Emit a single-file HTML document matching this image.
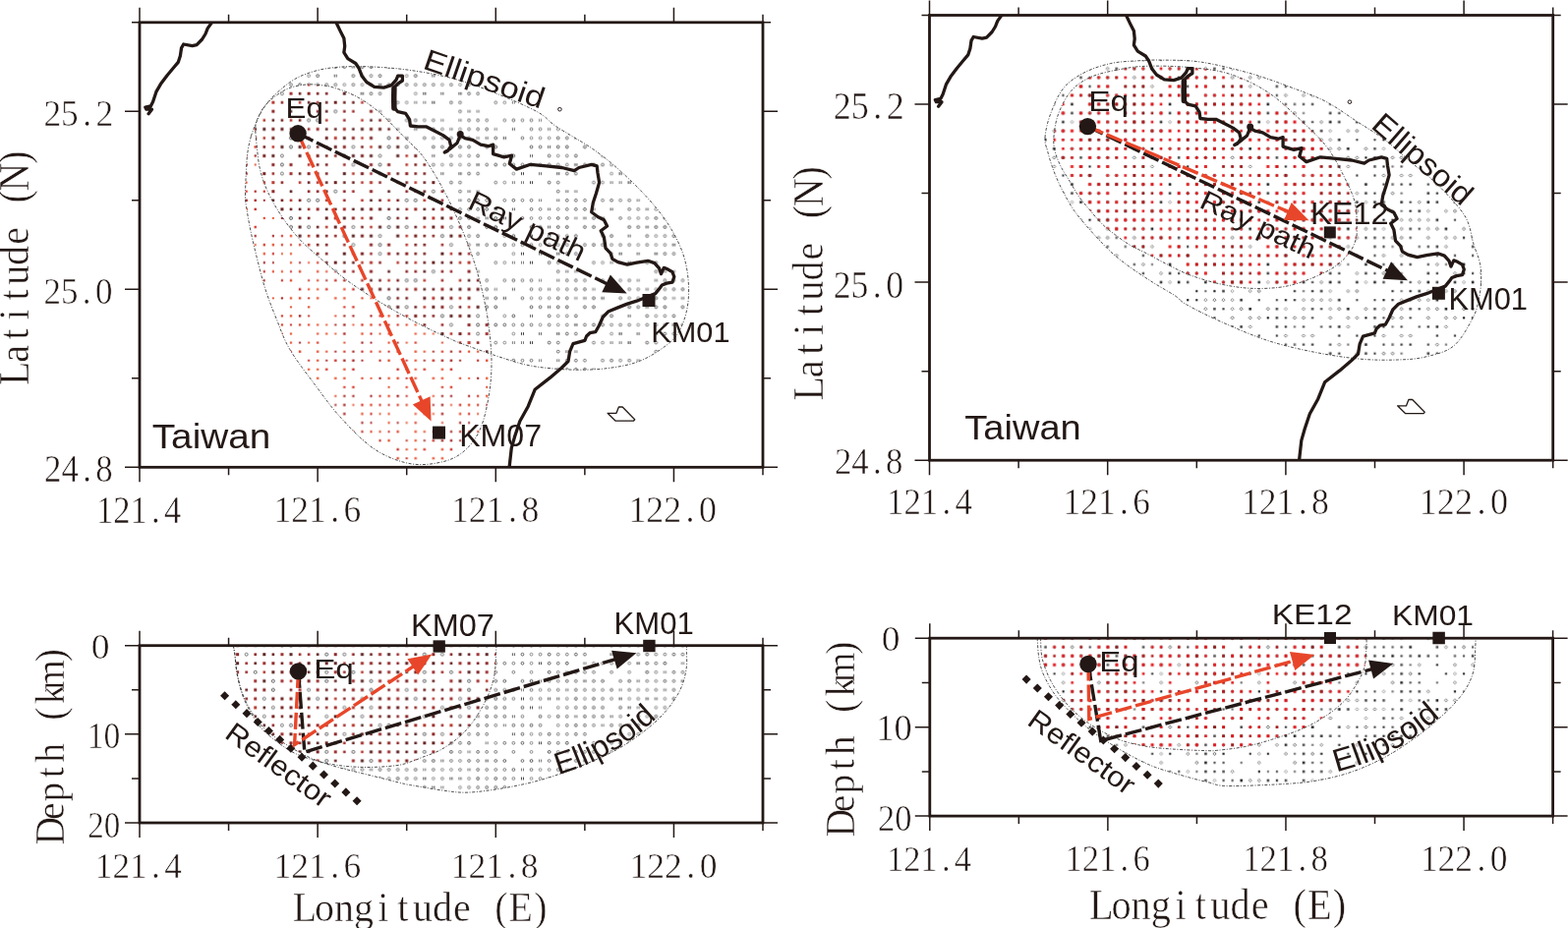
<!DOCTYPE html>
<html><head><meta charset="utf-8"><title>Figure</title>
<style>html,body{margin:0;padding:0;background:#fff;overflow:hidden}svg{display:block}</style>
</head><body>
<svg width="1595" height="944" viewBox="0 0 1595 944">
<defs><pattern id="pRA" patternUnits="userSpaceOnUse" x="137.47" y="18.27" width="99.63" height="81.45"><rect x="12.59" y="3.53" width="2" height="2" fill="#e04a2e"/><rect x="30.6" y="3.43" width="2.2" height="2.2" fill="#a82a2a"/><rect x="39.76" y="3.53" width="2" height="2" fill="#a82a2a"/><rect x="57.77" y="3.43" width="2.2" height="2.2" fill="#e85a3a"/><rect x="66.93" y="3.53" width="2" height="2" fill="#a82a2a"/><rect x="75.99" y="3.53" width="2" height="2" fill="#e85a3a"/><rect x="84.94" y="3.43" width="2.2" height="2.2" fill="#d83a2a"/><rect x="3.53" y="12.58" width="2" height="2" fill="#a82a2a"/><rect x="12.49" y="12.48" width="2.2" height="2.2" fill="#d83a2a"/><rect x="21.54" y="12.48" width="2.2" height="2.2" fill="#a82a2a"/><rect x="30.6" y="12.48" width="2.2" height="2.2" fill="#c8302a"/><rect x="39.66" y="12.48" width="2.2" height="2.2" fill="#e04a2e"/><rect x="48.71" y="12.48" width="2.2" height="2.2" fill="#e85a3a"/><rect x="57.87" y="12.58" width="2" height="2" fill="#c8302a"/><rect x="66.73" y="12.38" width="2.4" height="2.4" fill="#e04a2e"/><rect x="84.84" y="12.38" width="2.4" height="2.4" fill="#e85a3a"/><rect x="94" y="12.48" width="2.2" height="2.2" fill="#e85a3a"/><rect x="3.33" y="21.43" width="2.4" height="2.4" fill="#c8302a"/><rect x="12.39" y="21.43" width="2.4" height="2.4" fill="#a82a2a"/><rect x="21.44" y="21.43" width="2.4" height="2.4" fill="#a82a2a"/><rect x="30.7" y="21.62" width="2" height="2" fill="#a82a2a"/><rect x="48.71" y="21.52" width="2.2" height="2.2" fill="#c8302a"/><rect x="57.67" y="21.43" width="2.4" height="2.4" fill="#e04a2e"/><rect x="75.99" y="21.62" width="2" height="2" fill="#c8302a"/><rect x="84.94" y="21.52" width="2.2" height="2.2" fill="#e04a2e"/><rect x="94.1" y="21.62" width="2" height="2" fill="#a82a2a"/><rect x="12.39" y="30.48" width="2.4" height="2.4" fill="#e85a3a"/><rect x="21.44" y="30.48" width="2.4" height="2.4" fill="#c8302a"/><rect x="66.73" y="30.48" width="2.4" height="2.4" fill="#c8302a"/><rect x="75.89" y="30.58" width="2.2" height="2.2" fill="#e85a3a"/><rect x="84.94" y="30.58" width="2.2" height="2.2" fill="#e85a3a"/><rect x="93.9" y="30.48" width="2.4" height="2.4" fill="#d83a2a"/><rect x="3.33" y="39.52" width="2.4" height="2.4" fill="#e85a3a"/><rect x="12.39" y="39.52" width="2.4" height="2.4" fill="#e85a3a"/><rect x="30.6" y="39.62" width="2.2" height="2.2" fill="#e04a2e"/><rect x="39.76" y="39.73" width="2" height="2" fill="#e85a3a"/><rect x="48.71" y="39.62" width="2.2" height="2.2" fill="#a82a2a"/><rect x="57.67" y="39.52" width="2.4" height="2.4" fill="#e85a3a"/><rect x="66.73" y="39.52" width="2.4" height="2.4" fill="#e04a2e"/><rect x="75.99" y="39.73" width="2" height="2" fill="#c8302a"/><rect x="84.84" y="39.52" width="2.4" height="2.4" fill="#e85a3a"/><rect x="12.49" y="48.68" width="2.2" height="2.2" fill="#d83a2a"/><rect x="21.44" y="48.58" width="2.4" height="2.4" fill="#d83a2a"/><rect x="57.87" y="48.78" width="2" height="2" fill="#e04a2e"/><rect x="75.89" y="48.68" width="2.2" height="2.2" fill="#e04a2e"/><rect x="3.53" y="57.83" width="2" height="2" fill="#e04a2e"/><rect x="12.49" y="57.73" width="2.2" height="2.2" fill="#a82a2a"/><rect x="21.54" y="57.73" width="2.2" height="2.2" fill="#a82a2a"/><rect x="39.66" y="57.73" width="2.2" height="2.2" fill="#a82a2a"/><rect x="48.71" y="57.73" width="2.2" height="2.2" fill="#d83a2a"/><rect x="57.67" y="57.62" width="2.4" height="2.4" fill="#e85a3a"/><rect x="66.73" y="57.62" width="2.4" height="2.4" fill="#a82a2a"/><rect x="75.99" y="57.83" width="2" height="2" fill="#c8302a"/><rect x="3.53" y="66.88" width="2" height="2" fill="#a82a2a"/><rect x="12.39" y="66.67" width="2.4" height="2.4" fill="#a82a2a"/><rect x="21.64" y="66.88" width="2" height="2" fill="#e85a3a"/><rect x="30.5" y="66.67" width="2.4" height="2.4" fill="#d83a2a"/><rect x="39.56" y="66.67" width="2.4" height="2.4" fill="#e04a2e"/><rect x="48.71" y="66.78" width="2.2" height="2.2" fill="#d83a2a"/><rect x="57.87" y="66.88" width="2" height="2" fill="#c8302a"/><rect x="66.83" y="66.78" width="2.2" height="2.2" fill="#d83a2a"/><rect x="75.89" y="66.78" width="2.2" height="2.2" fill="#e04a2e"/><rect x="84.94" y="66.78" width="2.2" height="2.2" fill="#e85a3a"/><rect x="94.1" y="66.88" width="2" height="2" fill="#e85a3a"/><rect x="3.53" y="75.93" width="2" height="2" fill="#e85a3a"/><rect x="12.39" y="75.73" width="2.4" height="2.4" fill="#a82a2a"/><rect x="30.5" y="75.73" width="2.4" height="2.4" fill="#e85a3a"/><rect x="39.66" y="75.83" width="2.2" height="2.2" fill="#c8302a"/><rect x="48.81" y="75.93" width="2" height="2" fill="#e85a3a"/><rect x="57.77" y="75.83" width="2.2" height="2.2" fill="#e85a3a"/><rect x="84.94" y="75.83" width="2.2" height="2.2" fill="#e85a3a"/><rect x="94" y="75.83" width="2.2" height="2.2" fill="#e85a3a"/></pattern>
<pattern id="pGA" patternUnits="userSpaceOnUse" x="137.47" y="18.27" width="99.63" height="81.45"><path d="M3.53 3.13v2.8M5.53 3.13v2.8" stroke="#222" stroke-width="0.9"/><circle cx="22.64" cy="4.53" r="1.4" fill="none" stroke="#333" stroke-width="0.75"/><circle cx="31.7" cy="4.53" r="1.4" fill="none" stroke="#444" stroke-width="0.75"/><circle cx="67.93" cy="4.53" r="1.4" fill="none" stroke="#555" stroke-width="0.75"/><circle cx="76.99" cy="4.53" r="1.4" fill="none" stroke="#666" stroke-width="0.75"/><path d="M85.04 3.13v2.8M87.04 3.13v2.8" stroke="#666" stroke-width="0.9"/><path d="M94.1 3.13v2.8M96.1 3.13v2.8" stroke="#666" stroke-width="0.9"/><circle cx="31.7" cy="13.58" r="1.4" fill="none" stroke="#444" stroke-width="0.75"/><path d="M39.76 12.18v2.8M41.76 12.18v2.8" stroke="#555" stroke-width="0.9"/><path d="M48.81 12.18v2.8M50.81 12.18v2.8" stroke="#666" stroke-width="0.9"/><circle cx="4.53" cy="22.62" r="1.4" fill="none" stroke="#444" stroke-width="0.75"/><path d="M12.59 21.23v2.8M14.59 21.23v2.8" stroke="#666" stroke-width="0.9"/><path d="M30.7 21.23v2.8M32.7 21.23v2.8" stroke="#555" stroke-width="0.9"/><circle cx="40.76" cy="22.62" r="1.4" fill="none" stroke="#444" stroke-width="0.75"/><circle cx="49.81" cy="22.62" r="1.4" fill="none" stroke="#444" stroke-width="0.75"/><circle cx="58.87" cy="22.62" r="1.4" fill="none" stroke="#555" stroke-width="0.75"/><circle cx="76.99" cy="22.62" r="1.4" fill="none" stroke="#555" stroke-width="0.75"/><circle cx="86.04" cy="22.62" r="1.4" fill="none" stroke="#333" stroke-width="0.75"/><circle cx="95.1" cy="22.62" r="1.4" fill="none" stroke="#555" stroke-width="0.75"/><circle cx="4.53" cy="31.68" r="1.4" fill="none" stroke="#444" stroke-width="0.75"/><circle cx="13.59" cy="31.68" r="1.4" fill="none" stroke="#555" stroke-width="0.75"/><path d="M21.64 30.28v2.8M23.64 30.28v2.8" stroke="#555" stroke-width="0.9"/><circle cx="31.7" cy="31.68" r="1.4" fill="none" stroke="#666" stroke-width="0.75"/><circle cx="40.76" cy="31.68" r="1.4" fill="none" stroke="#555" stroke-width="0.75"/><circle cx="49.81" cy="31.68" r="1.4" fill="none" stroke="#444" stroke-width="0.75"/><circle cx="58.87" cy="31.68" r="1.4" fill="none" stroke="#333" stroke-width="0.75"/><path d="M66.93 30.28v2.8M68.93 30.28v2.8" stroke="#666" stroke-width="0.9"/><path d="M85.04 30.28v2.8M87.04 30.28v2.8" stroke="#444" stroke-width="0.9"/><circle cx="4.53" cy="40.73" r="1.4" fill="none" stroke="#666" stroke-width="0.75"/><circle cx="13.59" cy="40.73" r="1.4" fill="none" stroke="#666" stroke-width="0.75"/><circle cx="22.64" cy="40.73" r="1.4" fill="none" stroke="#666" stroke-width="0.75"/><circle cx="31.7" cy="40.73" r="1.4" fill="none" stroke="#333" stroke-width="0.75"/><circle cx="40.76" cy="40.73" r="1.4" fill="none" stroke="#444" stroke-width="0.75"/><path d="M48.81 39.33v2.8M50.81 39.33v2.8" stroke="#666" stroke-width="0.9"/><path d="M57.87 39.33v2.8M59.87 39.33v2.8" stroke="#444" stroke-width="0.9"/><circle cx="67.93" cy="40.73" r="1.4" fill="none" stroke="#333" stroke-width="0.75"/><path d="M75.99 39.33v2.8M77.99 39.33v2.8" stroke="#222" stroke-width="0.9"/><circle cx="95.1" cy="40.73" r="1.4" fill="none" stroke="#444" stroke-width="0.75"/><circle cx="4.53" cy="49.78" r="1.4" fill="none" stroke="#222" stroke-width="0.75"/><circle cx="13.59" cy="49.78" r="1.4" fill="none" stroke="#333" stroke-width="0.75"/><path d="M21.64 48.38v2.8M23.64 48.38v2.8" stroke="#333" stroke-width="0.9"/><circle cx="31.7" cy="49.78" r="1.4" fill="none" stroke="#222" stroke-width="0.75"/><circle cx="40.76" cy="49.78" r="1.4" fill="none" stroke="#222" stroke-width="0.75"/><circle cx="58.87" cy="49.78" r="1.4" fill="none" stroke="#333" stroke-width="0.75"/><circle cx="67.93" cy="49.78" r="1.4" fill="none" stroke="#222" stroke-width="0.75"/><path d="M3.53 57.43v2.8M5.53 57.43v2.8" stroke="#444" stroke-width="0.9"/><circle cx="22.64" cy="58.83" r="1.4" fill="none" stroke="#333" stroke-width="0.75"/><circle cx="31.7" cy="58.83" r="1.4" fill="none" stroke="#666" stroke-width="0.75"/><circle cx="40.76" cy="58.83" r="1.4" fill="none" stroke="#555" stroke-width="0.75"/><circle cx="49.81" cy="58.83" r="1.4" fill="none" stroke="#333" stroke-width="0.75"/><circle cx="76.99" cy="58.83" r="1.4" fill="none" stroke="#666" stroke-width="0.75"/><circle cx="86.04" cy="58.83" r="1.4" fill="none" stroke="#222" stroke-width="0.75"/><circle cx="4.53" cy="67.88" r="1.4" fill="none" stroke="#444" stroke-width="0.75"/><circle cx="13.59" cy="67.88" r="1.4" fill="none" stroke="#666" stroke-width="0.75"/><circle cx="22.64" cy="67.88" r="1.4" fill="none" stroke="#444" stroke-width="0.75"/><circle cx="31.7" cy="67.88" r="1.4" fill="none" stroke="#666" stroke-width="0.75"/><circle cx="40.76" cy="67.88" r="1.4" fill="none" stroke="#555" stroke-width="0.75"/><path d="M48.81 66.47v2.8M50.81 66.47v2.8" stroke="#222" stroke-width="0.9"/><circle cx="58.87" cy="67.88" r="1.4" fill="none" stroke="#444" stroke-width="0.75"/><circle cx="67.93" cy="67.88" r="1.4" fill="none" stroke="#222" stroke-width="0.75"/><circle cx="76.99" cy="67.88" r="1.4" fill="none" stroke="#333" stroke-width="0.75"/><circle cx="86.04" cy="67.88" r="1.4" fill="none" stroke="#555" stroke-width="0.75"/><circle cx="95.1" cy="67.88" r="1.4" fill="none" stroke="#444" stroke-width="0.75"/><path d="M12.59 75.53v2.8M14.59 75.53v2.8" stroke="#444" stroke-width="0.9"/><path d="M30.7 75.53v2.8M32.7 75.53v2.8" stroke="#222" stroke-width="0.9"/><circle cx="40.76" cy="76.93" r="1.4" fill="none" stroke="#333" stroke-width="0.75"/><circle cx="49.81" cy="76.93" r="1.4" fill="none" stroke="#444" stroke-width="0.75"/><circle cx="86.04" cy="76.93" r="1.4" fill="none" stroke="#666" stroke-width="0.75"/><path d="M94.1 75.53v2.8M96.1 75.53v2.8" stroke="#222" stroke-width="0.9"/></pattern>
<pattern id="pOA" patternUnits="userSpaceOnUse" x="137.47" y="18.27" width="99.63" height="81.45"><rect x="3.03" y="3.03" width="3" height="3" fill="#6a2222"/><rect x="12.29" y="3.23" width="2.6" height="2.6" fill="#6a2222"/><rect x="21.34" y="3.23" width="2.6" height="2.6" fill="#6a2222"/><rect x="30.4" y="3.23" width="2.6" height="2.6" fill="#b83a30"/><rect x="39.26" y="3.03" width="3" height="3" fill="#b83a30"/><rect x="48.51" y="3.23" width="2.6" height="2.6" fill="#8e2626"/><rect x="66.63" y="3.23" width="2.6" height="2.6" fill="#b83a30"/><rect x="75.69" y="3.23" width="2.6" height="2.6" fill="#6a2222"/><rect x="84.74" y="3.23" width="2.6" height="2.6" fill="#b83a30"/><rect x="93.8" y="3.23" width="2.6" height="2.6" fill="#6a2222"/><circle cx="4.53" cy="13.58" r="1.5" fill="none" stroke="#555" stroke-width="0.9"/><rect x="12.29" y="12.28" width="2.6" height="2.6" fill="#8e2626"/><rect x="21.34" y="12.28" width="2.6" height="2.6" fill="#a03030"/><rect x="39.26" y="12.08" width="3" height="3" fill="#8e2626"/><rect x="57.57" y="12.28" width="2.6" height="2.6" fill="#5e2424"/><rect x="75.69" y="12.28" width="2.6" height="2.6" fill="#8e2626"/><rect x="84.74" y="12.28" width="2.6" height="2.6" fill="#8e2626"/><rect x="93.8" y="12.28" width="2.6" height="2.6" fill="#5e2424"/><rect x="12.29" y="21.32" width="2.6" height="2.6" fill="#a03030"/><rect x="30.4" y="21.32" width="2.6" height="2.6" fill="#b83a30"/><rect x="39.46" y="21.32" width="2.6" height="2.6" fill="#5e2424"/><rect x="48.51" y="21.32" width="2.6" height="2.6" fill="#7a2020"/><rect x="57.57" y="21.32" width="2.6" height="2.6" fill="#b83a30"/><rect x="66.63" y="21.32" width="2.6" height="2.6" fill="#7a2020"/><circle cx="76.99" cy="22.62" r="1.5" fill="none" stroke="#555" stroke-width="0.9"/><circle cx="86.04" cy="22.62" r="1.5" fill="none" stroke="#444" stroke-width="0.9"/><rect x="93.8" y="21.32" width="2.6" height="2.6" fill="#b83a30"/><rect x="3.23" y="30.38" width="2.6" height="2.6" fill="#6a2222"/><rect x="12.09" y="30.18" width="3" height="3" fill="#a03030"/><rect x="21.34" y="30.38" width="2.6" height="2.6" fill="#5e2424"/><rect x="30.2" y="30.18" width="3" height="3" fill="#5e2424"/><rect x="39.26" y="30.18" width="3" height="3" fill="#7a2020"/><rect x="48.31" y="30.18" width="3" height="3" fill="#6a2222"/><rect x="57.57" y="30.38" width="2.6" height="2.6" fill="#6a2222"/><rect x="66.63" y="30.38" width="2.6" height="2.6" fill="#5e2424"/><rect x="75.69" y="30.38" width="2.6" height="2.6" fill="#a03030"/><rect x="84.54" y="30.18" width="3" height="3" fill="#a03030"/><rect x="93.8" y="30.38" width="2.6" height="2.6" fill="#5e2424"/><rect x="3.03" y="39.23" width="3" height="3" fill="#b83a30"/><rect x="12.09" y="39.23" width="3" height="3" fill="#5e2424"/><rect x="21.14" y="39.23" width="3" height="3" fill="#8e2626"/><rect x="30.4" y="39.43" width="2.6" height="2.6" fill="#b83a30"/><rect x="39.26" y="39.23" width="3" height="3" fill="#7a2020"/><circle cx="58.87" cy="40.73" r="1.5" fill="none" stroke="#444" stroke-width="0.9"/><rect x="66.63" y="39.43" width="2.6" height="2.6" fill="#7a2020"/><rect x="75.69" y="39.43" width="2.6" height="2.6" fill="#7a2020"/><rect x="93.6" y="39.23" width="3" height="3" fill="#6a2222"/><rect x="3.03" y="48.28" width="3" height="3" fill="#6a2222"/><rect x="12.09" y="48.28" width="3" height="3" fill="#8e2626"/><circle cx="22.64" cy="49.78" r="1.5" fill="none" stroke="#666" stroke-width="0.9"/><rect x="30.4" y="48.48" width="2.6" height="2.6" fill="#7a2020"/><rect x="39.46" y="48.48" width="2.6" height="2.6" fill="#b83a30"/><rect x="48.31" y="48.28" width="3" height="3" fill="#5e2424"/><circle cx="58.87" cy="49.78" r="1.5" fill="none" stroke="#444" stroke-width="0.9"/><rect x="66.43" y="48.28" width="3" height="3" fill="#5e2424"/><circle cx="76.99" cy="49.78" r="1.5" fill="none" stroke="#555" stroke-width="0.9"/><rect x="84.74" y="48.48" width="2.6" height="2.6" fill="#6a2222"/><rect x="93.8" y="48.48" width="2.6" height="2.6" fill="#b83a30"/><rect x="3.23" y="57.53" width="2.6" height="2.6" fill="#8e2626"/><circle cx="13.59" cy="58.83" r="1.5" fill="none" stroke="#444" stroke-width="0.9"/><rect x="21.14" y="57.33" width="3" height="3" fill="#5e2424"/><rect x="30.2" y="57.33" width="3" height="3" fill="#7a2020"/><rect x="39.26" y="57.33" width="3" height="3" fill="#5e2424"/><circle cx="49.81" cy="58.83" r="1.5" fill="none" stroke="#666" stroke-width="0.9"/><rect x="66.43" y="57.33" width="3" height="3" fill="#5e2424"/><rect x="75.69" y="57.53" width="2.6" height="2.6" fill="#b83a30"/><rect x="84.54" y="57.33" width="3" height="3" fill="#7a2020"/><rect x="93.8" y="57.53" width="2.6" height="2.6" fill="#7a2020"/><rect x="12.29" y="66.58" width="2.6" height="2.6" fill="#a03030"/><circle cx="22.64" cy="67.88" r="1.5" fill="none" stroke="#666" stroke-width="0.9"/><rect x="39.26" y="66.38" width="3" height="3" fill="#8e2626"/><circle cx="49.81" cy="67.88" r="1.5" fill="none" stroke="#444" stroke-width="0.9"/><rect x="57.37" y="66.38" width="3" height="3" fill="#8e2626"/><rect x="75.69" y="66.58" width="2.6" height="2.6" fill="#b83a30"/><rect x="84.74" y="66.58" width="2.6" height="2.6" fill="#7a2020"/><rect x="93.8" y="66.58" width="2.6" height="2.6" fill="#7a2020"/><rect x="12.09" y="75.43" width="3" height="3" fill="#5e2424"/><rect x="21.34" y="75.63" width="2.6" height="2.6" fill="#b83a30"/><rect x="30.2" y="75.43" width="3" height="3" fill="#7a2020"/><rect x="39.46" y="75.63" width="2.6" height="2.6" fill="#a03030"/><circle cx="49.81" cy="76.93" r="1.5" fill="none" stroke="#666" stroke-width="0.9"/><rect x="57.37" y="75.43" width="3" height="3" fill="#a03030"/><rect x="66.63" y="75.63" width="2.6" height="2.6" fill="#6a2222"/><rect x="75.49" y="75.43" width="3" height="3" fill="#8e2626"/><rect x="84.74" y="75.63" width="2.6" height="2.6" fill="#7a2020"/><rect x="93.8" y="75.63" width="2.6" height="2.6" fill="#7a2020"/></pattern>
<pattern id="pRB" patternUnits="userSpaceOnUse" x="940.97" y="10.97" width="99.66" height="81.49"><rect x="3.23" y="3.23" width="2.6" height="2.6" fill="#e3161b"/><rect x="12.09" y="3.03" width="3" height="3" fill="#9a1a1a"/><rect x="21.35" y="3.23" width="2.6" height="2.6" fill="#e8282a"/><rect x="30.41" y="3.23" width="2.6" height="2.6" fill="#e3161b"/><rect x="39.27" y="3.03" width="3" height="3" fill="#b01c1c"/><rect x="48.33" y="3.03" width="3" height="3" fill="#d01818"/><rect x="57.59" y="3.23" width="2.6" height="2.6" fill="#e3161b"/><rect x="66.45" y="3.03" width="3" height="3" fill="#9a1a1a"/><rect x="84.77" y="3.23" width="2.6" height="2.6" fill="#e8282a"/><rect x="93.83" y="3.23" width="2.6" height="2.6" fill="#e3161b"/><rect x="3.03" y="12.08" width="3" height="3" fill="#d01818"/><rect x="12.09" y="12.08" width="3" height="3" fill="#9a1a1a"/><rect x="21.15" y="12.08" width="3" height="3" fill="#d01818"/><rect x="30.21" y="12.08" width="3" height="3" fill="#e3161b"/><rect x="39.47" y="12.28" width="2.6" height="2.6" fill="#e3161b"/><rect x="66.45" y="12.08" width="3" height="3" fill="#e8282a"/><rect x="75.51" y="12.08" width="3" height="3" fill="#d01818"/><rect x="84.57" y="12.08" width="3" height="3" fill="#b01c1c"/><rect x="93.63" y="12.08" width="3" height="3" fill="#b01c1c"/><rect x="3.03" y="21.14" width="3" height="3" fill="#9a1a1a"/><rect x="12.29" y="21.34" width="2.6" height="2.6" fill="#e8282a"/><rect x="21.35" y="21.34" width="2.6" height="2.6" fill="#9a1a1a"/><rect x="30.41" y="21.34" width="2.6" height="2.6" fill="#9a1a1a"/><rect x="39.27" y="21.14" width="3" height="3" fill="#e3161b"/><rect x="57.39" y="21.14" width="3" height="3" fill="#e3161b"/><rect x="66.65" y="21.34" width="2.6" height="2.6" fill="#d01818"/><rect x="75.71" y="21.34" width="2.6" height="2.6" fill="#e3161b"/><rect x="84.57" y="21.14" width="3" height="3" fill="#e8282a"/><rect x="3.23" y="30.39" width="2.6" height="2.6" fill="#d01818"/><rect x="12.09" y="30.19" width="3" height="3" fill="#b01c1c"/><rect x="21.15" y="30.19" width="3" height="3" fill="#b01c1c"/><rect x="30.41" y="30.39" width="2.6" height="2.6" fill="#e3161b"/><rect x="57.59" y="30.39" width="2.6" height="2.6" fill="#d01818"/><rect x="66.45" y="30.19" width="3" height="3" fill="#e3161b"/><rect x="75.51" y="30.19" width="3" height="3" fill="#e3161b"/><rect x="84.77" y="30.39" width="2.6" height="2.6" fill="#e8282a"/><rect x="93.63" y="30.19" width="3" height="3" fill="#e8282a"/><rect x="3.23" y="39.44" width="2.6" height="2.6" fill="#b01c1c"/><rect x="12.09" y="39.24" width="3" height="3" fill="#d01818"/><rect x="21.35" y="39.44" width="2.6" height="2.6" fill="#e3161b"/><rect x="30.21" y="39.24" width="3" height="3" fill="#b01c1c"/><rect x="39.27" y="39.24" width="3" height="3" fill="#e3161b"/><rect x="48.33" y="39.24" width="3" height="3" fill="#e3161b"/><rect x="57.59" y="39.44" width="2.6" height="2.6" fill="#e3161b"/><rect x="66.45" y="39.24" width="3" height="3" fill="#d01818"/><rect x="75.51" y="39.24" width="3" height="3" fill="#b01c1c"/><rect x="84.57" y="39.24" width="3" height="3" fill="#e3161b"/><rect x="93.83" y="39.44" width="2.6" height="2.6" fill="#e3161b"/><rect x="3.03" y="48.3" width="3" height="3" fill="#e3161b"/><rect x="12.09" y="48.3" width="3" height="3" fill="#e3161b"/><rect x="21.15" y="48.3" width="3" height="3" fill="#e8282a"/><rect x="30.21" y="48.3" width="3" height="3" fill="#e3161b"/><rect x="39.47" y="48.5" width="2.6" height="2.6" fill="#e8282a"/><rect x="48.53" y="48.5" width="2.6" height="2.6" fill="#e3161b"/><rect x="57.39" y="48.3" width="3" height="3" fill="#e3161b"/><rect x="66.45" y="48.3" width="3" height="3" fill="#9a1a1a"/><rect x="75.71" y="48.5" width="2.6" height="2.6" fill="#b01c1c"/><rect x="84.57" y="48.3" width="3" height="3" fill="#9a1a1a"/><rect x="93.63" y="48.3" width="3" height="3" fill="#e8282a"/><rect x="3.23" y="57.55" width="2.6" height="2.6" fill="#e3161b"/><rect x="12.29" y="57.55" width="2.6" height="2.6" fill="#b01c1c"/><rect x="21.35" y="57.55" width="2.6" height="2.6" fill="#e8282a"/><rect x="39.47" y="57.55" width="2.6" height="2.6" fill="#e3161b"/><rect x="48.53" y="57.55" width="2.6" height="2.6" fill="#e8282a"/><rect x="57.59" y="57.55" width="2.6" height="2.6" fill="#e8282a"/><rect x="66.65" y="57.55" width="2.6" height="2.6" fill="#d01818"/><rect x="75.51" y="57.35" width="3" height="3" fill="#d01818"/><rect x="84.57" y="57.35" width="3" height="3" fill="#e3161b"/><rect x="93.63" y="57.35" width="3" height="3" fill="#e3161b"/><rect x="3.23" y="66.61" width="2.6" height="2.6" fill="#e3161b"/><rect x="21.15" y="66.41" width="3" height="3" fill="#b01c1c"/><rect x="30.41" y="66.61" width="2.6" height="2.6" fill="#e3161b"/><rect x="39.27" y="66.41" width="3" height="3" fill="#b01c1c"/><rect x="48.53" y="66.61" width="2.6" height="2.6" fill="#e8282a"/><rect x="66.45" y="66.41" width="3" height="3" fill="#e3161b"/><rect x="75.71" y="66.61" width="2.6" height="2.6" fill="#e3161b"/><rect x="84.77" y="66.61" width="2.6" height="2.6" fill="#d01818"/><rect x="93.83" y="66.61" width="2.6" height="2.6" fill="#d01818"/><rect x="3.23" y="75.66" width="2.6" height="2.6" fill="#b01c1c"/><rect x="12.29" y="75.66" width="2.6" height="2.6" fill="#b01c1c"/><rect x="21.35" y="75.66" width="2.6" height="2.6" fill="#b01c1c"/><rect x="48.33" y="75.46" width="3" height="3" fill="#e8282a"/><rect x="57.39" y="75.46" width="3" height="3" fill="#e3161b"/><rect x="75.71" y="75.66" width="2.6" height="2.6" fill="#e3161b"/><rect x="84.57" y="75.46" width="3" height="3" fill="#e8282a"/></pattern>
<pattern id="pGB" patternUnits="userSpaceOnUse" x="940.97" y="10.97" width="99.66" height="81.49"><rect x="21.55" y="3.43" width="2.2" height="2.2" fill="#333"/><rect x="39.67" y="3.43" width="2.2" height="2.2" fill="#444"/><rect x="57.79" y="3.43" width="2.2" height="2.2" fill="#444"/><path d="M67.95 2.93l1.6 1.6l-1.6 1.6l-1.6-1.6z" fill="none" stroke="#444" stroke-width="0.7"/><path d="M86.07 2.93l1.6 1.6l-1.6 1.6l-1.6-1.6z" fill="none" stroke="#444" stroke-width="0.7"/><path d="M95.13 2.93l1.6 1.6l-1.6 1.6l-1.6-1.6z" fill="none" stroke="#333" stroke-width="0.7"/><rect x="12.49" y="12.48" width="2.2" height="2.2" fill="#444"/><path d="M22.65 11.98l1.6 1.6l-1.6 1.6l-1.6-1.6z" fill="none" stroke="#444" stroke-width="0.7"/><rect x="30.61" y="12.48" width="2.2" height="2.2" fill="#777"/><rect x="48.53" y="12.28" width="2.6" height="2.6" fill="#222"/><rect x="66.85" y="12.48" width="2.2" height="2.2" fill="#444"/><rect x="75.71" y="12.28" width="2.6" height="2.6" fill="#777"/><rect x="84.97" y="12.48" width="2.2" height="2.2" fill="#333"/><rect x="94.03" y="12.48" width="2.2" height="2.2" fill="#222"/><rect x="12.29" y="21.34" width="2.6" height="2.6" fill="#444"/><rect x="21.55" y="21.54" width="2.2" height="2.2" fill="#333"/><path d="M40.77 21.04l1.6 1.6l-1.6 1.6l-1.6-1.6z" fill="none" stroke="#555" stroke-width="0.7"/><rect x="48.53" y="21.34" width="2.6" height="2.6" fill="#444"/><rect x="57.79" y="21.54" width="2.2" height="2.2" fill="#444"/><path d="M67.95 21.04l1.6 1.6l-1.6 1.6l-1.6-1.6z" fill="none" stroke="#222" stroke-width="0.7"/><path d="M77.01 21.04l1.6 1.6l-1.6 1.6l-1.6-1.6z" fill="none" stroke="#333" stroke-width="0.7"/><rect x="84.97" y="21.54" width="2.2" height="2.2" fill="#777"/><path d="M4.53 30.09l1.6 1.6l-1.6 1.6l-1.6-1.6z" fill="none" stroke="#444" stroke-width="0.7"/><rect x="12.29" y="30.39" width="2.6" height="2.6" fill="#222"/><rect x="21.35" y="30.39" width="2.6" height="2.6" fill="#444"/><rect x="39.47" y="30.39" width="2.6" height="2.6" fill="#333"/><path d="M49.83 30.09l1.6 1.6l-1.6 1.6l-1.6-1.6z" fill="none" stroke="#777" stroke-width="0.7"/><rect x="57.59" y="30.39" width="2.6" height="2.6" fill="#222"/><rect x="66.65" y="30.39" width="2.6" height="2.6" fill="#555"/><rect x="84.77" y="30.39" width="2.6" height="2.6" fill="#333"/><rect x="94.03" y="30.59" width="2.2" height="2.2" fill="#444"/><rect x="3.23" y="39.44" width="2.6" height="2.6" fill="#444"/><path d="M13.59 39.14l1.6 1.6l-1.6 1.6l-1.6-1.6z" fill="none" stroke="#777" stroke-width="0.7"/><path d="M31.71 39.14l1.6 1.6l-1.6 1.6l-1.6-1.6z" fill="none" stroke="#555" stroke-width="0.7"/><path d="M40.77 39.14l1.6 1.6l-1.6 1.6l-1.6-1.6z" fill="none" stroke="#222" stroke-width="0.7"/><rect x="75.91" y="39.64" width="2.2" height="2.2" fill="#333"/><rect x="84.97" y="39.64" width="2.2" height="2.2" fill="#777"/><rect x="94.03" y="39.64" width="2.2" height="2.2" fill="#222"/><path d="M4.53 48.2l1.6 1.6l-1.6 1.6l-1.6-1.6z" fill="none" stroke="#444" stroke-width="0.7"/><path d="M13.59 48.2l1.6 1.6l-1.6 1.6l-1.6-1.6z" fill="none" stroke="#555" stroke-width="0.7"/><rect x="21.35" y="48.5" width="2.6" height="2.6" fill="#333"/><rect x="39.67" y="48.7" width="2.2" height="2.2" fill="#555"/><rect x="57.79" y="48.7" width="2.2" height="2.2" fill="#555"/><rect x="66.85" y="48.7" width="2.2" height="2.2" fill="#222"/><rect x="75.91" y="48.7" width="2.2" height="2.2" fill="#333"/><path d="M86.07 48.2l1.6 1.6l-1.6 1.6l-1.6-1.6z" fill="none" stroke="#555" stroke-width="0.7"/><path d="M95.13 48.2l1.6 1.6l-1.6 1.6l-1.6-1.6z" fill="none" stroke="#333" stroke-width="0.7"/><rect x="3.43" y="57.75" width="2.2" height="2.2" fill="#444"/><path d="M13.59 57.25l1.6 1.6l-1.6 1.6l-1.6-1.6z" fill="none" stroke="#555" stroke-width="0.7"/><path d="M22.65 57.25l1.6 1.6l-1.6 1.6l-1.6-1.6z" fill="none" stroke="#222" stroke-width="0.7"/><rect x="30.41" y="57.55" width="2.6" height="2.6" fill="#222"/><path d="M49.83 57.25l1.6 1.6l-1.6 1.6l-1.6-1.6z" fill="none" stroke="#333" stroke-width="0.7"/><rect x="57.59" y="57.55" width="2.6" height="2.6" fill="#555"/><path d="M67.95 57.25l1.6 1.6l-1.6 1.6l-1.6-1.6z" fill="none" stroke="#777" stroke-width="0.7"/><path d="M86.07 57.25l1.6 1.6l-1.6 1.6l-1.6-1.6z" fill="none" stroke="#444" stroke-width="0.7"/><rect x="93.83" y="57.55" width="2.6" height="2.6" fill="#555"/><path d="M13.59 66.31l1.6 1.6l-1.6 1.6l-1.6-1.6z" fill="none" stroke="#333" stroke-width="0.7"/><path d="M31.71 66.31l1.6 1.6l-1.6 1.6l-1.6-1.6z" fill="none" stroke="#333" stroke-width="0.7"/><path d="M40.77 66.31l1.6 1.6l-1.6 1.6l-1.6-1.6z" fill="none" stroke="#444" stroke-width="0.7"/><rect x="48.73" y="66.81" width="2.2" height="2.2" fill="#222"/><rect x="57.59" y="66.61" width="2.6" height="2.6" fill="#555"/><rect x="66.85" y="66.81" width="2.2" height="2.2" fill="#555"/><path d="M77.01 66.31l1.6 1.6l-1.6 1.6l-1.6-1.6z" fill="none" stroke="#333" stroke-width="0.7"/><path d="M86.07 66.31l1.6 1.6l-1.6 1.6l-1.6-1.6z" fill="none" stroke="#222" stroke-width="0.7"/><rect x="94.03" y="66.81" width="2.2" height="2.2" fill="#444"/><rect x="3.43" y="75.86" width="2.2" height="2.2" fill="#555"/><rect x="12.49" y="75.86" width="2.2" height="2.2" fill="#333"/><rect x="21.35" y="75.66" width="2.6" height="2.6" fill="#444"/><path d="M31.71 75.36l1.6 1.6l-1.6 1.6l-1.6-1.6z" fill="none" stroke="#555" stroke-width="0.7"/><rect x="57.59" y="75.66" width="2.6" height="2.6" fill="#555"/><rect x="66.85" y="75.86" width="2.2" height="2.2" fill="#333"/><rect x="75.91" y="75.86" width="2.2" height="2.2" fill="#777"/><rect x="84.97" y="75.86" width="2.2" height="2.2" fill="#444"/></pattern>
<pattern id="pRC" patternUnits="userSpaceOnUse" x="137.47" y="652.19" width="99.63" height="81.13"><rect x="3.33" y="3.31" width="2.4" height="2.4" fill="#e04a2e"/><rect x="12.39" y="3.31" width="2.4" height="2.4" fill="#e85a3a"/><rect x="30.7" y="3.51" width="2" height="2" fill="#d83a2a"/><rect x="39.76" y="3.51" width="2" height="2" fill="#e04a2e"/><rect x="48.81" y="3.51" width="2" height="2" fill="#a82a2a"/><rect x="57.67" y="3.31" width="2.4" height="2.4" fill="#c8302a"/><rect x="84.94" y="3.41" width="2.2" height="2.2" fill="#c8302a"/><rect x="94.1" y="3.51" width="2" height="2" fill="#c8302a"/><rect x="3.43" y="12.42" width="2.2" height="2.2" fill="#c8302a"/><rect x="21.64" y="12.52" width="2" height="2" fill="#c8302a"/><rect x="30.7" y="12.52" width="2" height="2" fill="#c8302a"/><rect x="39.76" y="12.52" width="2" height="2" fill="#e85a3a"/><rect x="48.61" y="12.32" width="2.4" height="2.4" fill="#c8302a"/><rect x="66.93" y="12.52" width="2" height="2" fill="#a82a2a"/><rect x="75.89" y="12.42" width="2.2" height="2.2" fill="#a82a2a"/><rect x="12.39" y="21.34" width="2.4" height="2.4" fill="#e85a3a"/><rect x="30.6" y="21.44" width="2.2" height="2.2" fill="#d83a2a"/><rect x="39.66" y="21.44" width="2.2" height="2.2" fill="#a82a2a"/><rect x="48.81" y="21.54" width="2" height="2" fill="#a82a2a"/><rect x="57.87" y="21.54" width="2" height="2" fill="#d83a2a"/><rect x="66.93" y="21.54" width="2" height="2" fill="#e04a2e"/><rect x="75.99" y="21.54" width="2" height="2" fill="#e85a3a"/><rect x="84.94" y="21.44" width="2.2" height="2.2" fill="#a82a2a"/><rect x="94.1" y="21.54" width="2" height="2" fill="#a82a2a"/><rect x="21.64" y="30.55" width="2" height="2" fill="#d83a2a"/><rect x="30.6" y="30.45" width="2.2" height="2.2" fill="#e04a2e"/><rect x="39.56" y="30.35" width="2.4" height="2.4" fill="#e04a2e"/><rect x="48.81" y="30.55" width="2" height="2" fill="#e85a3a"/><rect x="57.77" y="30.45" width="2.2" height="2.2" fill="#e04a2e"/><rect x="75.99" y="30.55" width="2" height="2" fill="#c8302a"/><rect x="84.84" y="30.35" width="2.4" height="2.4" fill="#e04a2e"/><rect x="94" y="30.45" width="2.2" height="2.2" fill="#e04a2e"/><rect x="3.33" y="39.37" width="2.4" height="2.4" fill="#d83a2a"/><rect x="12.49" y="39.47" width="2.2" height="2.2" fill="#e04a2e"/><rect x="48.71" y="39.47" width="2.2" height="2.2" fill="#c8302a"/><rect x="57.87" y="39.57" width="2" height="2" fill="#e85a3a"/><rect x="66.83" y="39.47" width="2.2" height="2.2" fill="#d83a2a"/><rect x="84.94" y="39.47" width="2.2" height="2.2" fill="#a82a2a"/><rect x="94.1" y="39.57" width="2" height="2" fill="#d83a2a"/><rect x="3.33" y="48.38" width="2.4" height="2.4" fill="#d83a2a"/><rect x="12.49" y="48.48" width="2.2" height="2.2" fill="#c8302a"/><rect x="30.7" y="48.58" width="2" height="2" fill="#a82a2a"/><rect x="48.81" y="48.58" width="2" height="2" fill="#d83a2a"/><rect x="57.77" y="48.48" width="2.2" height="2.2" fill="#c8302a"/><rect x="66.73" y="48.38" width="2.4" height="2.4" fill="#c8302a"/><rect x="75.89" y="48.48" width="2.2" height="2.2" fill="#a82a2a"/><rect x="84.94" y="48.48" width="2.2" height="2.2" fill="#a82a2a"/><rect x="94" y="48.48" width="2.2" height="2.2" fill="#a82a2a"/><rect x="3.53" y="57.6" width="2" height="2" fill="#a82a2a"/><rect x="12.39" y="57.4" width="2.4" height="2.4" fill="#c8302a"/><rect x="21.54" y="57.5" width="2.2" height="2.2" fill="#e04a2e"/><rect x="39.56" y="57.4" width="2.4" height="2.4" fill="#e85a3a"/><rect x="48.71" y="57.5" width="2.2" height="2.2" fill="#d83a2a"/><rect x="57.77" y="57.5" width="2.2" height="2.2" fill="#e85a3a"/><rect x="66.83" y="57.5" width="2.2" height="2.2" fill="#e04a2e"/><rect x="75.79" y="57.4" width="2.4" height="2.4" fill="#e04a2e"/><rect x="84.94" y="57.5" width="2.2" height="2.2" fill="#e04a2e"/><rect x="94" y="57.5" width="2.2" height="2.2" fill="#c8302a"/><rect x="3.53" y="66.61" width="2" height="2" fill="#a82a2a"/><rect x="12.49" y="66.51" width="2.2" height="2.2" fill="#e04a2e"/><rect x="21.54" y="66.51" width="2.2" height="2.2" fill="#e04a2e"/><rect x="30.5" y="66.41" width="2.4" height="2.4" fill="#e04a2e"/><rect x="39.56" y="66.41" width="2.4" height="2.4" fill="#e04a2e"/><rect x="48.71" y="66.51" width="2.2" height="2.2" fill="#e04a2e"/><rect x="57.87" y="66.61" width="2" height="2" fill="#a82a2a"/><rect x="66.83" y="66.51" width="2.2" height="2.2" fill="#e85a3a"/><rect x="85.04" y="66.61" width="2" height="2" fill="#e04a2e"/><rect x="94" y="66.51" width="2.2" height="2.2" fill="#e04a2e"/><rect x="3.33" y="75.43" width="2.4" height="2.4" fill="#a82a2a"/><rect x="21.44" y="75.43" width="2.4" height="2.4" fill="#e85a3a"/><rect x="30.6" y="75.53" width="2.2" height="2.2" fill="#e04a2e"/><rect x="39.56" y="75.43" width="2.4" height="2.4" fill="#e04a2e"/><rect x="48.81" y="75.63" width="2" height="2" fill="#c8302a"/><rect x="66.73" y="75.43" width="2.4" height="2.4" fill="#c8302a"/><rect x="84.84" y="75.43" width="2.4" height="2.4" fill="#d83a2a"/><rect x="94.1" y="75.63" width="2" height="2" fill="#c8302a"/></pattern>
<pattern id="pGC" patternUnits="userSpaceOnUse" x="137.47" y="652.19" width="99.63" height="81.13"><circle cx="4.53" cy="4.51" r="1.4" fill="none" stroke="#222" stroke-width="0.75"/><circle cx="13.59" cy="4.51" r="1.4" fill="none" stroke="#444" stroke-width="0.75"/><circle cx="31.7" cy="4.51" r="1.4" fill="none" stroke="#666" stroke-width="0.75"/><circle cx="40.76" cy="4.51" r="1.4" fill="none" stroke="#444" stroke-width="0.75"/><circle cx="49.81" cy="4.51" r="1.4" fill="none" stroke="#222" stroke-width="0.75"/><circle cx="58.87" cy="4.51" r="1.4" fill="none" stroke="#333" stroke-width="0.75"/><circle cx="67.93" cy="4.51" r="1.4" fill="none" stroke="#555" stroke-width="0.75"/><path d="M75.99 3.11v2.8M77.99 3.11v2.8" stroke="#666" stroke-width="0.9"/><circle cx="86.04" cy="4.51" r="1.4" fill="none" stroke="#333" stroke-width="0.75"/><circle cx="95.1" cy="4.51" r="1.4" fill="none" stroke="#444" stroke-width="0.75"/><circle cx="4.53" cy="13.52" r="1.4" fill="none" stroke="#666" stroke-width="0.75"/><circle cx="13.59" cy="13.52" r="1.4" fill="none" stroke="#555" stroke-width="0.75"/><circle cx="22.64" cy="13.52" r="1.4" fill="none" stroke="#222" stroke-width="0.75"/><circle cx="31.7" cy="13.52" r="1.4" fill="none" stroke="#555" stroke-width="0.75"/><circle cx="40.76" cy="13.52" r="1.4" fill="none" stroke="#555" stroke-width="0.75"/><circle cx="49.81" cy="13.52" r="1.4" fill="none" stroke="#333" stroke-width="0.75"/><circle cx="58.87" cy="13.52" r="1.4" fill="none" stroke="#444" stroke-width="0.75"/><path d="M85.04 12.12v2.8M87.04 12.12v2.8" stroke="#444" stroke-width="0.9"/><circle cx="95.1" cy="13.52" r="1.4" fill="none" stroke="#333" stroke-width="0.75"/><circle cx="4.53" cy="22.54" r="1.4" fill="none" stroke="#666" stroke-width="0.75"/><path d="M12.59 21.14v2.8M14.59 21.14v2.8" stroke="#222" stroke-width="0.9"/><circle cx="22.64" cy="22.54" r="1.4" fill="none" stroke="#333" stroke-width="0.75"/><circle cx="31.7" cy="22.54" r="1.4" fill="none" stroke="#444" stroke-width="0.75"/><circle cx="40.76" cy="22.54" r="1.4" fill="none" stroke="#222" stroke-width="0.75"/><path d="M57.87 21.14v2.8M59.87 21.14v2.8" stroke="#666" stroke-width="0.9"/><circle cx="67.93" cy="22.54" r="1.4" fill="none" stroke="#666" stroke-width="0.75"/><circle cx="76.99" cy="22.54" r="1.4" fill="none" stroke="#444" stroke-width="0.75"/><circle cx="86.04" cy="22.54" r="1.4" fill="none" stroke="#555" stroke-width="0.75"/><circle cx="95.1" cy="22.54" r="1.4" fill="none" stroke="#333" stroke-width="0.75"/><circle cx="4.53" cy="31.55" r="1.4" fill="none" stroke="#666" stroke-width="0.75"/><circle cx="22.64" cy="31.55" r="1.4" fill="none" stroke="#222" stroke-width="0.75"/><circle cx="31.7" cy="31.55" r="1.4" fill="none" stroke="#666" stroke-width="0.75"/><path d="M39.76 30.15v2.8M41.76 30.15v2.8" stroke="#666" stroke-width="0.9"/><circle cx="49.81" cy="31.55" r="1.4" fill="none" stroke="#444" stroke-width="0.75"/><circle cx="58.87" cy="31.55" r="1.4" fill="none" stroke="#555" stroke-width="0.75"/><circle cx="67.93" cy="31.55" r="1.4" fill="none" stroke="#555" stroke-width="0.75"/><circle cx="86.04" cy="31.55" r="1.4" fill="none" stroke="#555" stroke-width="0.75"/><circle cx="4.53" cy="40.57" r="1.4" fill="none" stroke="#222" stroke-width="0.75"/><path d="M12.59 39.17v2.8M14.59 39.17v2.8" stroke="#555" stroke-width="0.9"/><circle cx="22.64" cy="40.57" r="1.4" fill="none" stroke="#555" stroke-width="0.75"/><circle cx="31.7" cy="40.57" r="1.4" fill="none" stroke="#666" stroke-width="0.75"/><circle cx="40.76" cy="40.57" r="1.4" fill="none" stroke="#444" stroke-width="0.75"/><circle cx="49.81" cy="40.57" r="1.4" fill="none" stroke="#555" stroke-width="0.75"/><path d="M57.87 39.17v2.8M59.87 39.17v2.8" stroke="#333" stroke-width="0.9"/><circle cx="67.93" cy="40.57" r="1.4" fill="none" stroke="#444" stroke-width="0.75"/><circle cx="76.99" cy="40.57" r="1.4" fill="none" stroke="#333" stroke-width="0.75"/><circle cx="95.1" cy="40.57" r="1.4" fill="none" stroke="#444" stroke-width="0.75"/><circle cx="4.53" cy="49.58" r="1.4" fill="none" stroke="#444" stroke-width="0.75"/><circle cx="13.59" cy="49.58" r="1.4" fill="none" stroke="#666" stroke-width="0.75"/><circle cx="22.64" cy="49.58" r="1.4" fill="none" stroke="#666" stroke-width="0.75"/><circle cx="31.7" cy="49.58" r="1.4" fill="none" stroke="#555" stroke-width="0.75"/><path d="M39.76 48.18v2.8M41.76 48.18v2.8" stroke="#555" stroke-width="0.9"/><circle cx="49.81" cy="49.58" r="1.4" fill="none" stroke="#444" stroke-width="0.75"/><circle cx="58.87" cy="49.58" r="1.4" fill="none" stroke="#555" stroke-width="0.75"/><circle cx="67.93" cy="49.58" r="1.4" fill="none" stroke="#555" stroke-width="0.75"/><circle cx="76.99" cy="49.58" r="1.4" fill="none" stroke="#555" stroke-width="0.75"/><circle cx="86.04" cy="49.58" r="1.4" fill="none" stroke="#333" stroke-width="0.75"/><path d="M94.1 48.18v2.8M96.1 48.18v2.8" stroke="#666" stroke-width="0.9"/><circle cx="4.53" cy="58.6" r="1.4" fill="none" stroke="#666" stroke-width="0.75"/><circle cx="13.59" cy="58.6" r="1.4" fill="none" stroke="#555" stroke-width="0.75"/><path d="M21.64 57.2v2.8M23.64 57.2v2.8" stroke="#333" stroke-width="0.9"/><path d="M30.7 57.2v2.8M32.7 57.2v2.8" stroke="#444" stroke-width="0.9"/><circle cx="40.76" cy="58.6" r="1.4" fill="none" stroke="#666" stroke-width="0.75"/><circle cx="49.81" cy="58.6" r="1.4" fill="none" stroke="#222" stroke-width="0.75"/><circle cx="58.87" cy="58.6" r="1.4" fill="none" stroke="#666" stroke-width="0.75"/><circle cx="67.93" cy="58.6" r="1.4" fill="none" stroke="#222" stroke-width="0.75"/><circle cx="76.99" cy="58.6" r="1.4" fill="none" stroke="#444" stroke-width="0.75"/><circle cx="86.04" cy="58.6" r="1.4" fill="none" stroke="#555" stroke-width="0.75"/><path d="M94.1 57.2v2.8M96.1 57.2v2.8" stroke="#222" stroke-width="0.9"/><path d="M3.53 66.21v2.8M5.53 66.21v2.8" stroke="#333" stroke-width="0.9"/><path d="M12.59 66.21v2.8M14.59 66.21v2.8" stroke="#666" stroke-width="0.9"/><circle cx="31.7" cy="67.61" r="1.4" fill="none" stroke="#666" stroke-width="0.75"/><circle cx="40.76" cy="67.61" r="1.4" fill="none" stroke="#555" stroke-width="0.75"/><circle cx="49.81" cy="67.61" r="1.4" fill="none" stroke="#444" stroke-width="0.75"/><circle cx="58.87" cy="67.61" r="1.4" fill="none" stroke="#333" stroke-width="0.75"/><circle cx="67.93" cy="67.61" r="1.4" fill="none" stroke="#333" stroke-width="0.75"/><circle cx="76.99" cy="67.61" r="1.4" fill="none" stroke="#333" stroke-width="0.75"/><circle cx="95.1" cy="67.61" r="1.4" fill="none" stroke="#222" stroke-width="0.75"/><circle cx="13.59" cy="76.63" r="1.4" fill="none" stroke="#222" stroke-width="0.75"/><circle cx="22.64" cy="76.63" r="1.4" fill="none" stroke="#666" stroke-width="0.75"/><circle cx="31.7" cy="76.63" r="1.4" fill="none" stroke="#222" stroke-width="0.75"/><circle cx="40.76" cy="76.63" r="1.4" fill="none" stroke="#444" stroke-width="0.75"/><path d="M48.81 75.23v2.8M50.81 75.23v2.8" stroke="#555" stroke-width="0.9"/><circle cx="58.87" cy="76.63" r="1.4" fill="none" stroke="#222" stroke-width="0.75"/><circle cx="67.93" cy="76.63" r="1.4" fill="none" stroke="#333" stroke-width="0.75"/><circle cx="76.99" cy="76.63" r="1.4" fill="none" stroke="#333" stroke-width="0.75"/><path d="M85.04 75.23v2.8M87.04 75.23v2.8" stroke="#555" stroke-width="0.9"/><circle cx="95.1" cy="76.63" r="1.4" fill="none" stroke="#555" stroke-width="0.75"/></pattern>
<pattern id="pOC" patternUnits="userSpaceOnUse" x="137.47" y="652.19" width="99.63" height="81.13"><rect x="3.03" y="3.01" width="3" height="3" fill="#a03030"/><rect x="12.29" y="3.21" width="2.6" height="2.6" fill="#a03030"/><rect x="21.14" y="3.01" width="3" height="3" fill="#b83a30"/><rect x="30.4" y="3.21" width="2.6" height="2.6" fill="#5e2424"/><rect x="39.46" y="3.21" width="2.6" height="2.6" fill="#8e2626"/><circle cx="49.81" cy="4.51" r="1.5" fill="none" stroke="#666" stroke-width="0.9"/><circle cx="58.87" cy="4.51" r="1.5" fill="none" stroke="#444" stroke-width="0.9"/><rect x="66.63" y="3.21" width="2.6" height="2.6" fill="#5e2424"/><rect x="75.49" y="3.01" width="3" height="3" fill="#6a2222"/><rect x="84.54" y="3.01" width="3" height="3" fill="#a03030"/><rect x="93.6" y="3.01" width="3" height="3" fill="#b83a30"/><rect x="3.03" y="12.02" width="3" height="3" fill="#8e2626"/><circle cx="13.59" cy="13.52" r="1.5" fill="none" stroke="#666" stroke-width="0.9"/><rect x="21.34" y="12.22" width="2.6" height="2.6" fill="#8e2626"/><rect x="30.2" y="12.02" width="3" height="3" fill="#5e2424"/><rect x="39.46" y="12.22" width="2.6" height="2.6" fill="#6a2222"/><rect x="48.31" y="12.02" width="3" height="3" fill="#a03030"/><rect x="57.37" y="12.02" width="3" height="3" fill="#5e2424"/><rect x="66.63" y="12.22" width="2.6" height="2.6" fill="#a03030"/><rect x="75.69" y="12.22" width="2.6" height="2.6" fill="#a03030"/><rect x="84.74" y="12.22" width="2.6" height="2.6" fill="#5e2424"/><circle cx="95.1" cy="13.52" r="1.5" fill="none" stroke="#444" stroke-width="0.9"/><rect x="3.03" y="21.04" width="3" height="3" fill="#5e2424"/><rect x="12.29" y="21.24" width="2.6" height="2.6" fill="#a03030"/><rect x="21.34" y="21.24" width="2.6" height="2.6" fill="#6a2222"/><rect x="30.2" y="21.04" width="3" height="3" fill="#a03030"/><rect x="39.26" y="21.04" width="3" height="3" fill="#8e2626"/><rect x="48.51" y="21.24" width="2.6" height="2.6" fill="#7a2020"/><rect x="57.37" y="21.04" width="3" height="3" fill="#8e2626"/><rect x="66.63" y="21.24" width="2.6" height="2.6" fill="#8e2626"/><rect x="75.49" y="21.04" width="3" height="3" fill="#6a2222"/><rect x="84.74" y="21.24" width="2.6" height="2.6" fill="#5e2424"/><rect x="93.6" y="21.04" width="3" height="3" fill="#6a2222"/><rect x="3.03" y="30.05" width="3" height="3" fill="#a03030"/><rect x="12.29" y="30.25" width="2.6" height="2.6" fill="#a03030"/><circle cx="22.64" cy="31.55" r="1.5" fill="none" stroke="#555" stroke-width="0.9"/><rect x="30.4" y="30.25" width="2.6" height="2.6" fill="#b83a30"/><rect x="39.26" y="30.05" width="3" height="3" fill="#5e2424"/><rect x="48.31" y="30.05" width="3" height="3" fill="#7a2020"/><rect x="57.37" y="30.05" width="3" height="3" fill="#a03030"/><rect x="66.43" y="30.05" width="3" height="3" fill="#5e2424"/><rect x="75.69" y="30.25" width="2.6" height="2.6" fill="#5e2424"/><rect x="84.54" y="30.05" width="3" height="3" fill="#7a2020"/><circle cx="95.1" cy="31.55" r="1.5" fill="none" stroke="#555" stroke-width="0.9"/><rect x="3.23" y="39.27" width="2.6" height="2.6" fill="#6a2222"/><rect x="21.14" y="39.07" width="3" height="3" fill="#a03030"/><rect x="30.2" y="39.07" width="3" height="3" fill="#5e2424"/><circle cx="40.76" cy="40.57" r="1.5" fill="none" stroke="#555" stroke-width="0.9"/><rect x="48.31" y="39.07" width="3" height="3" fill="#a03030"/><rect x="57.57" y="39.27" width="2.6" height="2.6" fill="#b83a30"/><rect x="66.63" y="39.27" width="2.6" height="2.6" fill="#b83a30"/><rect x="75.49" y="39.07" width="3" height="3" fill="#7a2020"/><rect x="84.54" y="39.07" width="3" height="3" fill="#a03030"/><circle cx="95.1" cy="40.57" r="1.5" fill="none" stroke="#444" stroke-width="0.9"/><rect x="3.23" y="48.28" width="2.6" height="2.6" fill="#7a2020"/><rect x="12.29" y="48.28" width="2.6" height="2.6" fill="#6a2222"/><rect x="21.14" y="48.08" width="3" height="3" fill="#8e2626"/><rect x="30.2" y="48.08" width="3" height="3" fill="#8e2626"/><circle cx="40.76" cy="49.58" r="1.5" fill="none" stroke="#444" stroke-width="0.9"/><rect x="57.57" y="48.28" width="2.6" height="2.6" fill="#7a2020"/><rect x="66.43" y="48.08" width="3" height="3" fill="#a03030"/><circle cx="76.99" cy="49.58" r="1.5" fill="none" stroke="#666" stroke-width="0.9"/><rect x="84.54" y="48.08" width="3" height="3" fill="#a03030"/><rect x="93.8" y="48.28" width="2.6" height="2.6" fill="#6a2222"/><rect x="3.23" y="57.3" width="2.6" height="2.6" fill="#b83a30"/><rect x="12.29" y="57.3" width="2.6" height="2.6" fill="#8e2626"/><rect x="21.14" y="57.1" width="3" height="3" fill="#a03030"/><circle cx="31.7" cy="58.6" r="1.5" fill="none" stroke="#666" stroke-width="0.9"/><rect x="39.26" y="57.1" width="3" height="3" fill="#7a2020"/><rect x="48.31" y="57.1" width="3" height="3" fill="#6a2222"/><rect x="57.37" y="57.1" width="3" height="3" fill="#8e2626"/><rect x="66.43" y="57.1" width="3" height="3" fill="#a03030"/><rect x="75.49" y="57.1" width="3" height="3" fill="#5e2424"/><circle cx="86.04" cy="58.6" r="1.5" fill="none" stroke="#555" stroke-width="0.9"/><rect x="93.6" y="57.1" width="3" height="3" fill="#6a2222"/><rect x="3.03" y="66.11" width="3" height="3" fill="#a03030"/><circle cx="13.59" cy="67.61" r="1.5" fill="none" stroke="#666" stroke-width="0.9"/><rect x="21.14" y="66.11" width="3" height="3" fill="#b83a30"/><rect x="30.4" y="66.31" width="2.6" height="2.6" fill="#5e2424"/><circle cx="40.76" cy="67.61" r="1.5" fill="none" stroke="#666" stroke-width="0.9"/><rect x="48.31" y="66.11" width="3" height="3" fill="#7a2020"/><rect x="57.37" y="66.11" width="3" height="3" fill="#7a2020"/><rect x="66.43" y="66.11" width="3" height="3" fill="#6a2222"/><rect x="75.69" y="66.31" width="2.6" height="2.6" fill="#8e2626"/><rect x="84.74" y="66.31" width="2.6" height="2.6" fill="#8e2626"/><rect x="93.8" y="66.31" width="2.6" height="2.6" fill="#a03030"/><rect x="3.03" y="75.13" width="3" height="3" fill="#5e2424"/><rect x="21.34" y="75.33" width="2.6" height="2.6" fill="#5e2424"/><circle cx="31.7" cy="76.63" r="1.5" fill="none" stroke="#666" stroke-width="0.9"/><rect x="39.26" y="75.13" width="3" height="3" fill="#7a2020"/><rect x="48.51" y="75.33" width="2.6" height="2.6" fill="#7a2020"/><rect x="57.37" y="75.13" width="3" height="3" fill="#6a2222"/><rect x="66.63" y="75.33" width="2.6" height="2.6" fill="#8e2626"/><rect x="75.49" y="75.13" width="3" height="3" fill="#8e2626"/><circle cx="95.1" cy="76.63" r="1.5" fill="none" stroke="#666" stroke-width="0.9"/></pattern>
<pattern id="pRD" patternUnits="userSpaceOnUse" x="941.27" y="644.68" width="99.6" height="81.4"><rect x="3.23" y="3.22" width="2.6" height="2.6" fill="#d01818"/><rect x="12.28" y="3.22" width="2.6" height="2.6" fill="#e8282a"/><rect x="21.14" y="3.02" width="3" height="3" fill="#b01c1c"/><rect x="39.44" y="3.22" width="2.6" height="2.6" fill="#e3161b"/><rect x="48.5" y="3.22" width="2.6" height="2.6" fill="#e3161b"/><rect x="66.61" y="3.22" width="2.6" height="2.6" fill="#e3161b"/><rect x="75.66" y="3.22" width="2.6" height="2.6" fill="#b01c1c"/><rect x="84.72" y="3.22" width="2.6" height="2.6" fill="#e3161b"/><rect x="3.03" y="12.07" width="3" height="3" fill="#d01818"/><rect x="30.39" y="12.27" width="2.6" height="2.6" fill="#e3161b"/><rect x="39.44" y="12.27" width="2.6" height="2.6" fill="#e3161b"/><rect x="57.55" y="12.27" width="2.6" height="2.6" fill="#b01c1c"/><rect x="75.46" y="12.07" width="3" height="3" fill="#e8282a"/><rect x="84.52" y="12.07" width="3" height="3" fill="#e3161b"/><rect x="93.77" y="12.27" width="2.6" height="2.6" fill="#9a1a1a"/><rect x="3.23" y="21.31" width="2.6" height="2.6" fill="#b01c1c"/><rect x="12.08" y="21.11" width="3" height="3" fill="#e3161b"/><rect x="21.14" y="21.11" width="3" height="3" fill="#b01c1c"/><rect x="30.39" y="21.31" width="2.6" height="2.6" fill="#b01c1c"/><rect x="39.24" y="21.11" width="3" height="3" fill="#e3161b"/><rect x="48.3" y="21.11" width="3" height="3" fill="#e3161b"/><rect x="57.55" y="21.31" width="2.6" height="2.6" fill="#e8282a"/><rect x="66.41" y="21.11" width="3" height="3" fill="#e3161b"/><rect x="75.46" y="21.11" width="3" height="3" fill="#b01c1c"/><rect x="84.72" y="21.31" width="2.6" height="2.6" fill="#e8282a"/><rect x="3.23" y="30.36" width="2.6" height="2.6" fill="#e3161b"/><rect x="12.08" y="30.16" width="3" height="3" fill="#9a1a1a"/><rect x="21.14" y="30.16" width="3" height="3" fill="#e3161b"/><rect x="30.19" y="30.16" width="3" height="3" fill="#e3161b"/><rect x="39.24" y="30.16" width="3" height="3" fill="#e3161b"/><rect x="48.3" y="30.16" width="3" height="3" fill="#e3161b"/><rect x="66.61" y="30.36" width="2.6" height="2.6" fill="#d01818"/><rect x="75.46" y="30.16" width="3" height="3" fill="#e3161b"/><rect x="93.57" y="30.16" width="3" height="3" fill="#e3161b"/><rect x="3.03" y="39.2" width="3" height="3" fill="#9a1a1a"/><rect x="12.08" y="39.2" width="3" height="3" fill="#9a1a1a"/><rect x="21.34" y="39.4" width="2.6" height="2.6" fill="#e3161b"/><rect x="48.5" y="39.4" width="2.6" height="2.6" fill="#d01818"/><rect x="57.55" y="39.4" width="2.6" height="2.6" fill="#e3161b"/><rect x="66.61" y="39.4" width="2.6" height="2.6" fill="#d01818"/><rect x="75.46" y="39.2" width="3" height="3" fill="#e3161b"/><rect x="84.72" y="39.4" width="2.6" height="2.6" fill="#d01818"/><rect x="93.57" y="39.2" width="3" height="3" fill="#d01818"/><rect x="3.23" y="48.45" width="2.6" height="2.6" fill="#d01818"/><rect x="12.28" y="48.45" width="2.6" height="2.6" fill="#e3161b"/><rect x="48.5" y="48.45" width="2.6" height="2.6" fill="#e3161b"/><rect x="84.72" y="48.45" width="2.6" height="2.6" fill="#e3161b"/><rect x="93.57" y="48.25" width="3" height="3" fill="#e3161b"/><rect x="3.03" y="57.29" width="3" height="3" fill="#b01c1c"/><rect x="12.28" y="57.49" width="2.6" height="2.6" fill="#e3161b"/><rect x="21.14" y="57.29" width="3" height="3" fill="#d01818"/><rect x="30.39" y="57.49" width="2.6" height="2.6" fill="#e3161b"/><rect x="48.3" y="57.29" width="3" height="3" fill="#d01818"/><rect x="57.55" y="57.49" width="2.6" height="2.6" fill="#b01c1c"/><rect x="75.46" y="57.29" width="3" height="3" fill="#e3161b"/><rect x="84.72" y="57.49" width="2.6" height="2.6" fill="#e8282a"/><rect x="93.77" y="57.49" width="2.6" height="2.6" fill="#9a1a1a"/><rect x="3.03" y="66.34" width="3" height="3" fill="#e3161b"/><rect x="12.28" y="66.54" width="2.6" height="2.6" fill="#b01c1c"/><rect x="21.14" y="66.34" width="3" height="3" fill="#9a1a1a"/><rect x="30.39" y="66.54" width="2.6" height="2.6" fill="#e8282a"/><rect x="39.24" y="66.34" width="3" height="3" fill="#9a1a1a"/><rect x="48.5" y="66.54" width="2.6" height="2.6" fill="#b01c1c"/><rect x="57.55" y="66.54" width="2.6" height="2.6" fill="#e3161b"/><rect x="66.41" y="66.34" width="3" height="3" fill="#e3161b"/><rect x="84.52" y="66.34" width="3" height="3" fill="#d01818"/><rect x="93.57" y="66.34" width="3" height="3" fill="#e3161b"/><rect x="21.14" y="75.38" width="3" height="3" fill="#e3161b"/><rect x="30.39" y="75.58" width="2.6" height="2.6" fill="#d01818"/><rect x="39.24" y="75.38" width="3" height="3" fill="#e8282a"/><rect x="48.5" y="75.58" width="2.6" height="2.6" fill="#d01818"/><rect x="57.55" y="75.58" width="2.6" height="2.6" fill="#d01818"/><rect x="66.41" y="75.38" width="3" height="3" fill="#e8282a"/><rect x="75.66" y="75.58" width="2.6" height="2.6" fill="#e8282a"/><rect x="84.52" y="75.38" width="3" height="3" fill="#d01818"/><rect x="93.77" y="75.58" width="2.6" height="2.6" fill="#9a1a1a"/></pattern>
<pattern id="pGD" patternUnits="userSpaceOnUse" x="941.27" y="644.68" width="99.6" height="81.4"><path d="M13.58 2.92l1.6 1.6l-1.6 1.6l-1.6-1.6z" fill="none" stroke="#333" stroke-width="0.7"/><path d="M49.8 2.92l1.6 1.6l-1.6 1.6l-1.6-1.6z" fill="none" stroke="#777" stroke-width="0.7"/><rect x="66.61" y="3.22" width="2.6" height="2.6" fill="#555"/><rect x="75.86" y="3.42" width="2.2" height="2.2" fill="#555"/><path d="M86.02 2.92l1.6 1.6l-1.6 1.6l-1.6-1.6z" fill="none" stroke="#555" stroke-width="0.7"/><rect x="21.34" y="12.27" width="2.6" height="2.6" fill="#555"/><path d="M31.69 11.97l1.6 1.6l-1.6 1.6l-1.6-1.6z" fill="none" stroke="#555" stroke-width="0.7"/><rect x="39.64" y="12.47" width="2.2" height="2.2" fill="#444"/><path d="M49.8 11.97l1.6 1.6l-1.6 1.6l-1.6-1.6z" fill="none" stroke="#222" stroke-width="0.7"/><rect x="57.75" y="12.47" width="2.2" height="2.2" fill="#555"/><rect x="66.81" y="12.47" width="2.2" height="2.2" fill="#444"/><rect x="75.86" y="12.47" width="2.2" height="2.2" fill="#555"/><rect x="84.92" y="12.47" width="2.2" height="2.2" fill="#333"/><rect x="93.77" y="12.27" width="2.6" height="2.6" fill="#222"/><rect x="3.23" y="21.31" width="2.6" height="2.6" fill="#333"/><rect x="12.28" y="21.31" width="2.6" height="2.6" fill="#555"/><rect x="21.54" y="21.51" width="2.2" height="2.2" fill="#555"/><rect x="39.44" y="21.31" width="2.6" height="2.6" fill="#777"/><rect x="48.7" y="21.51" width="2.2" height="2.2" fill="#555"/><rect x="57.55" y="21.31" width="2.6" height="2.6" fill="#444"/><rect x="66.81" y="21.51" width="2.2" height="2.2" fill="#222"/><rect x="75.66" y="21.31" width="2.6" height="2.6" fill="#222"/><rect x="84.92" y="21.51" width="2.2" height="2.2" fill="#444"/><rect x="93.77" y="21.31" width="2.6" height="2.6" fill="#555"/><path d="M4.53 30.06l1.6 1.6l-1.6 1.6l-1.6-1.6z" fill="none" stroke="#555" stroke-width="0.7"/><rect x="21.54" y="30.56" width="2.2" height="2.2" fill="#333"/><path d="M40.74 30.06l1.6 1.6l-1.6 1.6l-1.6-1.6z" fill="none" stroke="#444" stroke-width="0.7"/><path d="M58.85 30.06l1.6 1.6l-1.6 1.6l-1.6-1.6z" fill="none" stroke="#555" stroke-width="0.7"/><rect x="66.61" y="30.36" width="2.6" height="2.6" fill="#333"/><path d="M76.96 30.06l1.6 1.6l-1.6 1.6l-1.6-1.6z" fill="none" stroke="#333" stroke-width="0.7"/><rect x="84.72" y="30.36" width="2.6" height="2.6" fill="#555"/><rect x="93.97" y="30.56" width="2.2" height="2.2" fill="#777"/><rect x="3.43" y="39.6" width="2.2" height="2.2" fill="#222"/><rect x="30.59" y="39.6" width="2.2" height="2.2" fill="#444"/><path d="M40.74 39.1l1.6 1.6l-1.6 1.6l-1.6-1.6z" fill="none" stroke="#777" stroke-width="0.7"/><rect x="48.7" y="39.6" width="2.2" height="2.2" fill="#333"/><path d="M67.91 39.1l1.6 1.6l-1.6 1.6l-1.6-1.6z" fill="none" stroke="#444" stroke-width="0.7"/><rect x="75.86" y="39.6" width="2.2" height="2.2" fill="#777"/><rect x="84.72" y="39.4" width="2.6" height="2.6" fill="#444"/><path d="M95.07 39.1l1.6 1.6l-1.6 1.6l-1.6-1.6z" fill="none" stroke="#222" stroke-width="0.7"/><rect x="3.43" y="48.65" width="2.2" height="2.2" fill="#555"/><rect x="21.54" y="48.65" width="2.2" height="2.2" fill="#777"/><path d="M40.74 48.15l1.6 1.6l-1.6 1.6l-1.6-1.6z" fill="none" stroke="#555" stroke-width="0.7"/><path d="M76.96 48.15l1.6 1.6l-1.6 1.6l-1.6-1.6z" fill="none" stroke="#333" stroke-width="0.7"/><rect x="84.72" y="48.45" width="2.6" height="2.6" fill="#222"/><rect x="93.97" y="48.65" width="2.2" height="2.2" fill="#555"/><rect x="3.23" y="57.49" width="2.6" height="2.6" fill="#555"/><path d="M13.58 57.19l1.6 1.6l-1.6 1.6l-1.6-1.6z" fill="none" stroke="#555" stroke-width="0.7"/><rect x="39.64" y="57.69" width="2.2" height="2.2" fill="#222"/><rect x="48.7" y="57.69" width="2.2" height="2.2" fill="#777"/><rect x="57.75" y="57.69" width="2.2" height="2.2" fill="#555"/><path d="M67.91 57.19l1.6 1.6l-1.6 1.6l-1.6-1.6z" fill="none" stroke="#777" stroke-width="0.7"/><rect x="75.86" y="57.69" width="2.2" height="2.2" fill="#777"/><rect x="84.72" y="57.49" width="2.6" height="2.6" fill="#444"/><rect x="93.97" y="57.69" width="2.2" height="2.2" fill="#333"/><rect x="3.43" y="66.74" width="2.2" height="2.2" fill="#444"/><rect x="12.48" y="66.74" width="2.2" height="2.2" fill="#555"/><rect x="21.34" y="66.54" width="2.6" height="2.6" fill="#222"/><path d="M31.69 66.24l1.6 1.6l-1.6 1.6l-1.6-1.6z" fill="none" stroke="#444" stroke-width="0.7"/><path d="M40.74 66.24l1.6 1.6l-1.6 1.6l-1.6-1.6z" fill="none" stroke="#444" stroke-width="0.7"/><rect x="48.5" y="66.54" width="2.6" height="2.6" fill="#444"/><rect x="57.75" y="66.74" width="2.2" height="2.2" fill="#222"/><rect x="66.61" y="66.54" width="2.6" height="2.6" fill="#555"/><rect x="84.72" y="66.54" width="2.6" height="2.6" fill="#555"/><path d="M95.07 66.24l1.6 1.6l-1.6 1.6l-1.6-1.6z" fill="none" stroke="#777" stroke-width="0.7"/><rect x="3.43" y="75.78" width="2.2" height="2.2" fill="#555"/><rect x="12.48" y="75.78" width="2.2" height="2.2" fill="#777"/><rect x="21.34" y="75.58" width="2.6" height="2.6" fill="#222"/><rect x="30.39" y="75.58" width="2.6" height="2.6" fill="#444"/><path d="M40.74 75.28l1.6 1.6l-1.6 1.6l-1.6-1.6z" fill="none" stroke="#777" stroke-width="0.7"/><path d="M49.8 75.28l1.6 1.6l-1.6 1.6l-1.6-1.6z" fill="none" stroke="#444" stroke-width="0.7"/><path d="M58.85 75.28l1.6 1.6l-1.6 1.6l-1.6-1.6z" fill="none" stroke="#444" stroke-width="0.7"/><path d="M67.91 75.28l1.6 1.6l-1.6 1.6l-1.6-1.6z" fill="none" stroke="#777" stroke-width="0.7"/><rect x="75.86" y="75.78" width="2.2" height="2.2" fill="#555"/><rect x="84.72" y="75.58" width="2.6" height="2.6" fill="#333"/></pattern>
<clipPath id="cA"><rect x="142" y="22.8" width="634" height="452.5"/></clipPath>
<clipPath id="cB"><rect x="945.5" y="15.5" width="634.2" height="452.7"/></clipPath>
<clipPath id="cC"><rect x="142" y="656.7" width="634" height="180.3"/></clipPath>
<clipPath id="cD"><rect x="945.8" y="649.2" width="633.8" height="180.9"/></clipPath>
<clipPath id="er1"><path d="M255.4 138.6 C256.95 133.2 259.02 128.7 261 124 C262.98 119.3 264.28 114.63 267.3 110.4 C270.32 106.17 274.65 102.05 279.1 98.6 C283.55 95.15 288.55 91.8 294 89.7 C299.45 87.6 306.37 86.5 311.8 86 C317.23 85.5 321.9 86.15 326.6 86.7 C331.3 87.25 333.88 87.32 340 89.3 C346.12 91.28 355.53 94.33 363.3 98.6 C371.07 102.87 378.83 108.3 386.6 114.9 C394.37 121.5 402.92 131.2 409.9 138.2 C416.88 145.2 423.07 150.3 428.5 156.9 C433.93 163.5 437.85 170.05 442.5 177.8 C447.15 185.55 452.13 194.87 456.4 203.4 C460.67 211.93 464.6 220.85 468.1 229 C471.6 237.15 474.68 244.92 477.4 252.3 C480.12 259.68 482.07 265.38 484.4 273.3 C486.73 281.22 489.3 290.28 491.4 299.8 C493.5 309.32 495.57 319.2 497 330.4 C498.43 341.6 499.92 355.23 500 367 C500.08 378.77 499.33 389.63 497.5 401 C495.67 412.37 492.92 425.83 489 435.2 C485.08 444.57 480.17 451.52 474 457.2 C467.83 462.88 461.33 466.87 452 469.3 C442.67 471.73 429.77 473.82 418 471.8 C406.23 469.78 393.2 464.92 381.4 457.2 C369.6 449.48 357.37 436.47 347.2 425.5 C337.03 414.53 329.13 403.08 320.4 391.4 C311.67 379.72 301.3 366.48 294.8 355.4 C288.3 344.32 285.53 335.07 281.4 324.9 C277.27 314.73 273.23 304.38 270 294.4 C266.77 284.42 264.5 274.9 262 265 C259.5 255.1 256.92 244.17 255 235 C253.08 225.83 251.42 215.83 250.5 210 C249.58 204.17 249.55 205.22 249.5 200 C249.45 194.78 249.83 185.97 250.2 178.7 C250.57 171.43 250.83 163.08 251.7 156.4 C252.57 149.72 253.85 144 255.4 138.6 Z"/></clipPath>
<clipPath id="er3"><path d="M237 656.7 C237.27 657.83 237.93 658.78 238.6 663.5 C239.27 668.22 239.77 678.08 241 685 C242.23 691.92 244.15 699.27 246 705 C247.85 710.73 249.43 714.23 252.1 719.4 C254.77 724.57 258.05 730.92 262 736 C265.95 741.08 269.25 744.75 275.8 749.9 C282.35 755.05 291.4 762.38 301.3 766.9 C311.2 771.42 323.9 774.75 335.2 777 C346.5 779.25 357.8 780.12 369.1 780.4 C380.4 780.68 394.52 779.75 403 778.7 C411.48 777.65 415.6 775.48 420 774.1 C424.4 772.72 424.7 772.28 429.4 770.4 C434.1 768.52 441.93 766.25 448.2 762.8 C454.47 759.35 461.35 754.7 467 749.7 C472.65 744.7 477.4 739.38 482.1 732.8 C486.8 726.22 491.75 717.73 495.2 710.2 C498.65 702.67 501.23 695.43 502.8 687.6 C504.37 679.77 504.27 668.35 504.6 663.2 C504.93 658.05 504.77 657.78 504.8 656.7 Z"/></clipPath></defs>
<rect width="100%" height="100%" fill="#fff"/>
<g clip-path="url(#cA)"><path d="M259.8 129.7 C260.05 124.75 260.32 124 262.8 119.3 C265.28 114.6 269.02 107.67 274.7 101.5 C280.38 95.33 289.48 87.12 296.9 82.3 C304.32 77.48 311.18 74.95 319.2 72.6 C327.22 70.25 334.87 68.97 345 68.2 C355.13 67.43 367.5 67.4 380 68 C392.5 68.6 406.27 69.75 420 71.8 C433.73 73.85 448.28 76.43 462.4 80.3 C476.52 84.17 490.6 89.38 504.7 95 C518.8 100.62 536.83 108.4 547 114 C557.17 119.6 556.38 122.35 565.7 128.6 C575.02 134.85 591.92 143.87 602.9 151.5 C613.88 159.13 622.05 165.82 631.6 174.4 C641.15 182.98 652.1 193.93 660.2 203 C668.3 212.07 674.48 219.73 680.2 228.8 C685.92 237.87 691.17 247.87 694.5 257.4 C697.83 266.93 699.48 276.47 700.2 286 C700.92 295.53 700.7 305.53 698.8 314.6 C696.9 323.67 693.8 333.23 688.8 340.4 C683.8 347.57 675.95 352.83 668.8 357.6 C661.65 362.37 654.5 366.15 645.9 369 C637.3 371.85 626.75 373.5 617.2 374.7 C607.65 375.9 598.13 376.2 588.6 376.2 C579.07 376.2 569.12 375.6 560 374.7 C550.88 373.8 543.33 373 533.9 370.8 C524.47 368.6 514.05 365.02 503.4 361.5 C492.75 357.98 477.12 352.3 470 349.7 C462.88 347.1 467.02 348.77 460.7 345.9 C454.38 343.03 441.63 337.27 432.1 332.5 C422.57 327.73 413.03 322.7 403.5 317.3 C393.97 311.9 383.8 305.82 374.9 300.1 C366 294.38 358.05 289.03 350.1 283 C342.15 276.97 334.83 270.58 327.2 263.9 C319.57 257.22 311.28 250.53 304.3 242.9 C297.32 235.27 290.73 226.33 285.3 218.1 C279.87 209.87 275.2 201.3 271.7 193.5 C268.2 185.7 266.03 178.72 264.3 171.3 C262.57 163.88 262.05 155.93 261.3 149 C260.55 142.07 259.55 134.65 259.8 129.7 Z" fill="url(#pGA)"/><path d="M255.4 138.6 C256.95 133.2 259.02 128.7 261 124 C262.98 119.3 264.28 114.63 267.3 110.4 C270.32 106.17 274.65 102.05 279.1 98.6 C283.55 95.15 288.55 91.8 294 89.7 C299.45 87.6 306.37 86.5 311.8 86 C317.23 85.5 321.9 86.15 326.6 86.7 C331.3 87.25 333.88 87.32 340 89.3 C346.12 91.28 355.53 94.33 363.3 98.6 C371.07 102.87 378.83 108.3 386.6 114.9 C394.37 121.5 402.92 131.2 409.9 138.2 C416.88 145.2 423.07 150.3 428.5 156.9 C433.93 163.5 437.85 170.05 442.5 177.8 C447.15 185.55 452.13 194.87 456.4 203.4 C460.67 211.93 464.6 220.85 468.1 229 C471.6 237.15 474.68 244.92 477.4 252.3 C480.12 259.68 482.07 265.38 484.4 273.3 C486.73 281.22 489.3 290.28 491.4 299.8 C493.5 309.32 495.57 319.2 497 330.4 C498.43 341.6 499.92 355.23 500 367 C500.08 378.77 499.33 389.63 497.5 401 C495.67 412.37 492.92 425.83 489 435.2 C485.08 444.57 480.17 451.52 474 457.2 C467.83 462.88 461.33 466.87 452 469.3 C442.67 471.73 429.77 473.82 418 471.8 C406.23 469.78 393.2 464.92 381.4 457.2 C369.6 449.48 357.37 436.47 347.2 425.5 C337.03 414.53 329.13 403.08 320.4 391.4 C311.67 379.72 301.3 366.48 294.8 355.4 C288.3 344.32 285.53 335.07 281.4 324.9 C277.27 314.73 273.23 304.38 270 294.4 C266.77 284.42 264.5 274.9 262 265 C259.5 255.1 256.92 244.17 255 235 C253.08 225.83 251.42 215.83 250.5 210 C249.58 204.17 249.55 205.22 249.5 200 C249.45 194.78 249.83 185.97 250.2 178.7 C250.57 171.43 250.83 163.08 251.7 156.4 C252.57 149.72 253.85 144 255.4 138.6 Z" fill="url(#pRA)"/><g clip-path="url(#er1)"><path d="M259.8 129.7 C260.05 124.75 260.32 124 262.8 119.3 C265.28 114.6 269.02 107.67 274.7 101.5 C280.38 95.33 289.48 87.12 296.9 82.3 C304.32 77.48 311.18 74.95 319.2 72.6 C327.22 70.25 334.87 68.97 345 68.2 C355.13 67.43 367.5 67.4 380 68 C392.5 68.6 406.27 69.75 420 71.8 C433.73 73.85 448.28 76.43 462.4 80.3 C476.52 84.17 490.6 89.38 504.7 95 C518.8 100.62 536.83 108.4 547 114 C557.17 119.6 556.38 122.35 565.7 128.6 C575.02 134.85 591.92 143.87 602.9 151.5 C613.88 159.13 622.05 165.82 631.6 174.4 C641.15 182.98 652.1 193.93 660.2 203 C668.3 212.07 674.48 219.73 680.2 228.8 C685.92 237.87 691.17 247.87 694.5 257.4 C697.83 266.93 699.48 276.47 700.2 286 C700.92 295.53 700.7 305.53 698.8 314.6 C696.9 323.67 693.8 333.23 688.8 340.4 C683.8 347.57 675.95 352.83 668.8 357.6 C661.65 362.37 654.5 366.15 645.9 369 C637.3 371.85 626.75 373.5 617.2 374.7 C607.65 375.9 598.13 376.2 588.6 376.2 C579.07 376.2 569.12 375.6 560 374.7 C550.88 373.8 543.33 373 533.9 370.8 C524.47 368.6 514.05 365.02 503.4 361.5 C492.75 357.98 477.12 352.3 470 349.7 C462.88 347.1 467.02 348.77 460.7 345.9 C454.38 343.03 441.63 337.27 432.1 332.5 C422.57 327.73 413.03 322.7 403.5 317.3 C393.97 311.9 383.8 305.82 374.9 300.1 C366 294.38 358.05 289.03 350.1 283 C342.15 276.97 334.83 270.58 327.2 263.9 C319.57 257.22 311.28 250.53 304.3 242.9 C297.32 235.27 290.73 226.33 285.3 218.1 C279.87 209.87 275.2 201.3 271.7 193.5 C268.2 185.7 266.03 178.72 264.3 171.3 C262.57 163.88 262.05 155.93 261.3 149 C260.55 142.07 259.55 134.65 259.8 129.7 Z" fill="#fff"/><path d="M259.8 129.7 C260.05 124.75 260.32 124 262.8 119.3 C265.28 114.6 269.02 107.67 274.7 101.5 C280.38 95.33 289.48 87.12 296.9 82.3 C304.32 77.48 311.18 74.95 319.2 72.6 C327.22 70.25 334.87 68.97 345 68.2 C355.13 67.43 367.5 67.4 380 68 C392.5 68.6 406.27 69.75 420 71.8 C433.73 73.85 448.28 76.43 462.4 80.3 C476.52 84.17 490.6 89.38 504.7 95 C518.8 100.62 536.83 108.4 547 114 C557.17 119.6 556.38 122.35 565.7 128.6 C575.02 134.85 591.92 143.87 602.9 151.5 C613.88 159.13 622.05 165.82 631.6 174.4 C641.15 182.98 652.1 193.93 660.2 203 C668.3 212.07 674.48 219.73 680.2 228.8 C685.92 237.87 691.17 247.87 694.5 257.4 C697.83 266.93 699.48 276.47 700.2 286 C700.92 295.53 700.7 305.53 698.8 314.6 C696.9 323.67 693.8 333.23 688.8 340.4 C683.8 347.57 675.95 352.83 668.8 357.6 C661.65 362.37 654.5 366.15 645.9 369 C637.3 371.85 626.75 373.5 617.2 374.7 C607.65 375.9 598.13 376.2 588.6 376.2 C579.07 376.2 569.12 375.6 560 374.7 C550.88 373.8 543.33 373 533.9 370.8 C524.47 368.6 514.05 365.02 503.4 361.5 C492.75 357.98 477.12 352.3 470 349.7 C462.88 347.1 467.02 348.77 460.7 345.9 C454.38 343.03 441.63 337.27 432.1 332.5 C422.57 327.73 413.03 322.7 403.5 317.3 C393.97 311.9 383.8 305.82 374.9 300.1 C366 294.38 358.05 289.03 350.1 283 C342.15 276.97 334.83 270.58 327.2 263.9 C319.57 257.22 311.28 250.53 304.3 242.9 C297.32 235.27 290.73 226.33 285.3 218.1 C279.87 209.87 275.2 201.3 271.7 193.5 C268.2 185.7 266.03 178.72 264.3 171.3 C262.57 163.88 262.05 155.93 261.3 149 C260.55 142.07 259.55 134.65 259.8 129.7 Z" fill="url(#pOA)"/></g><path d="M259.8 129.7 C260.05 124.75 260.32 124 262.8 119.3 C265.28 114.6 269.02 107.67 274.7 101.5 C280.38 95.33 289.48 87.12 296.9 82.3 C304.32 77.48 311.18 74.95 319.2 72.6 C327.22 70.25 334.87 68.97 345 68.2 C355.13 67.43 367.5 67.4 380 68 C392.5 68.6 406.27 69.75 420 71.8 C433.73 73.85 448.28 76.43 462.4 80.3 C476.52 84.17 490.6 89.38 504.7 95 C518.8 100.62 536.83 108.4 547 114 C557.17 119.6 556.38 122.35 565.7 128.6 C575.02 134.85 591.92 143.87 602.9 151.5 C613.88 159.13 622.05 165.82 631.6 174.4 C641.15 182.98 652.1 193.93 660.2 203 C668.3 212.07 674.48 219.73 680.2 228.8 C685.92 237.87 691.17 247.87 694.5 257.4 C697.83 266.93 699.48 276.47 700.2 286 C700.92 295.53 700.7 305.53 698.8 314.6 C696.9 323.67 693.8 333.23 688.8 340.4 C683.8 347.57 675.95 352.83 668.8 357.6 C661.65 362.37 654.5 366.15 645.9 369 C637.3 371.85 626.75 373.5 617.2 374.7 C607.65 375.9 598.13 376.2 588.6 376.2 C579.07 376.2 569.12 375.6 560 374.7 C550.88 373.8 543.33 373 533.9 370.8 C524.47 368.6 514.05 365.02 503.4 361.5 C492.75 357.98 477.12 352.3 470 349.7 C462.88 347.1 467.02 348.77 460.7 345.9 C454.38 343.03 441.63 337.27 432.1 332.5 C422.57 327.73 413.03 322.7 403.5 317.3 C393.97 311.9 383.8 305.82 374.9 300.1 C366 294.38 358.05 289.03 350.1 283 C342.15 276.97 334.83 270.58 327.2 263.9 C319.57 257.22 311.28 250.53 304.3 242.9 C297.32 235.27 290.73 226.33 285.3 218.1 C279.87 209.87 275.2 201.3 271.7 193.5 C268.2 185.7 266.03 178.72 264.3 171.3 C262.57 163.88 262.05 155.93 261.3 149 C260.55 142.07 259.55 134.65 259.8 129.7 Z" fill="none" stroke="#3a3a3a" stroke-width="0.9" stroke-dasharray="3 1.6 1 1.6"/><path d="M255.4 138.6 C256.95 133.2 259.02 128.7 261 124 C262.98 119.3 264.28 114.63 267.3 110.4 C270.32 106.17 274.65 102.05 279.1 98.6 C283.55 95.15 288.55 91.8 294 89.7 C299.45 87.6 306.37 86.5 311.8 86 C317.23 85.5 321.9 86.15 326.6 86.7 C331.3 87.25 333.88 87.32 340 89.3 C346.12 91.28 355.53 94.33 363.3 98.6 C371.07 102.87 378.83 108.3 386.6 114.9 C394.37 121.5 402.92 131.2 409.9 138.2 C416.88 145.2 423.07 150.3 428.5 156.9 C433.93 163.5 437.85 170.05 442.5 177.8 C447.15 185.55 452.13 194.87 456.4 203.4 C460.67 211.93 464.6 220.85 468.1 229 C471.6 237.15 474.68 244.92 477.4 252.3 C480.12 259.68 482.07 265.38 484.4 273.3 C486.73 281.22 489.3 290.28 491.4 299.8 C493.5 309.32 495.57 319.2 497 330.4 C498.43 341.6 499.92 355.23 500 367 C500.08 378.77 499.33 389.63 497.5 401 C495.67 412.37 492.92 425.83 489 435.2 C485.08 444.57 480.17 451.52 474 457.2 C467.83 462.88 461.33 466.87 452 469.3 C442.67 471.73 429.77 473.82 418 471.8 C406.23 469.78 393.2 464.92 381.4 457.2 C369.6 449.48 357.37 436.47 347.2 425.5 C337.03 414.53 329.13 403.08 320.4 391.4 C311.67 379.72 301.3 366.48 294.8 355.4 C288.3 344.32 285.53 335.07 281.4 324.9 C277.27 314.73 273.23 304.38 270 294.4 C266.77 284.42 264.5 274.9 262 265 C259.5 255.1 256.92 244.17 255 235 C253.08 225.83 251.42 215.83 250.5 210 C249.58 204.17 249.55 205.22 249.5 200 C249.45 194.78 249.83 185.97 250.2 178.7 C250.57 171.43 250.83 163.08 251.7 156.4 C252.57 149.72 253.85 144 255.4 138.6 Z" fill="none" stroke="#3a3a3a" stroke-width="0.9" stroke-dasharray="3 1.6 1 1.6"/></g>
<g clip-path="url(#cA)"><g transform="translate(0 0)"><path d="M216.8 21 L211.2 28.9 L209 34.5 L205.6 40 L200.1 45.6 L195.6 46.7 L186.7 45 L184.5 48.9 L183.4 56.7 L181.2 63.4 L175.6 70 L170 76.7 L163.4 85.6 L158.9 93.4 L155.6 103.4 L153.3 107.9 L147.8 109 L148.9 111.2 L154.5 111.2 L151.1 115.7 M341.1 21 L345.9 31.1 L349.9 39.1 L350.7 47 L349.9 53.4 L353.8 59.7 L361.8 64.5 L365 69.2 L368.1 77.2 L372.9 83.5 L380.8 88.3 L390.4 89.1 L398.3 86.7 L403.1 81.2 L404.7 77.2 L409.4 77.2 L409.4 82 L404.7 85.1 L401.5 88.3 L400.7 99.4 L400.7 109 L404.7 113.7 L412.6 115.3 L416.6 121.7 L417.4 128 L425.3 128.8 L433.3 128.8 L441.2 132.8 L450.7 137.6 L457.1 142.3 L458.7 148.7 L455.5 153.4 L452.3 155 L457.1 151.9 L465 145.5 L468.2 137.6 L473 140.7 L480.9 142.3 L488.9 147.1 L496.8 148.7 L501.6 147.1 L501.6 156.6 L512.7 159.8 L520.6 158.2 L518.3 166.5 L525.4 172.1 L539.7 167.3 L555.6 168.9 L571.5 170.5 L584.2 173.7 L589 170.5 L601.7 167.3 L607.2 168.9 L608 176 L609.6 185.6 L606.4 196.7 L603.3 206.3 L601.7 215.8 L608 220.5 L614.4 223.7 L617.6 230 L611.2 234.8 L614.4 241.2 L616 252.3 L621 257.6 L622.9 263.3 L628.6 266.7 L638.1 269.1 L647.7 267.2 L659.1 265.3 L665.8 267.6 L670.5 272.9 L672.5 278.6 L675.3 272.4 L679.1 273.8 L683.9 276.7 L685.8 281.5 L683.9 287.2 L678.2 288.1 L673.4 290 L670.5 293.9 L666.7 298.6 L659.1 301.5 L647.7 306.2 L638.1 309.1 L628.6 312.9 L619.1 316.7 L613.3 322.5 L609.5 331 L605.7 337.7 L600 338.7 L596.6 342 L594.9 346.3 L583 349.7 L579.7 357.3 L578 367.5 L571.2 374.2 L559.3 384.4 L544.1 396.3 L537.3 413.2 L528.8 428.5 L523.7 443.7 L520.3 455.6 L517.8 478" fill="none" stroke="#231815" stroke-width="3.3" stroke-linejoin="round" stroke-linecap="round"/><path d="M618.1 420.3 L627 420.3 L629.4 414 L633.2 414 L645.7 426.7 L644.4 428.2 L626.2 428.2 Z" fill="none" stroke="#231815" stroke-width="1.3" stroke-linejoin="round"/><circle cx="468.2" cy="136.5" r="3.5" fill="#231815"/><path d="M400.9 90 L400.7 99.4 L400.9 110" stroke="#231815" stroke-width="5.5" stroke-linecap="round" fill="none"/><circle cx="569.4" cy="111.2" r="1.8" fill="none" stroke="#231815" stroke-width="1"/></g></g>
<path d="M303.1 135.8 L429.57 409.09" fill="none" stroke="#e8462a" stroke-width="3.4" stroke-dasharray="17 4"/><path d="M438.6 428.6 L419.84 411.39 L437.62 403.16 Z" fill="#e8462a"/>
<path d="M303.1 135.8 L618.37 289.19" fill="none" stroke="#231815" stroke-width="3.4" stroke-dasharray="17 4"/><path d="M637.7 298.6 L612.28 297.13 L620.86 279.51 Z" fill="#231815"/>
<rect x="440" y="433.6" width="13" height="13" fill="#231815"/>
<rect x="653.5" y="299" width="13" height="13" fill="#231815"/>
<circle cx="303.1" cy="135.8" r="8.7" fill="#231815"/>
<g clip-path="url(#cB)"><path d="M1063 140 C1063.43 133.57 1065.37 124.58 1068.5 116.2 C1071.63 107.82 1076.05 96.77 1081.8 89.7 C1087.55 82.63 1095.05 77.98 1103 73.8 C1110.95 69.62 1120.67 66.58 1129.5 64.6 C1138.33 62.62 1147.17 62.48 1156 61.9 C1164.83 61.32 1171.47 60.88 1182.5 61.1 C1193.53 61.32 1207.1 60.88 1222.2 63.2 C1237.3 65.52 1256.85 70.32 1273.1 75 C1289.35 79.68 1306.88 86.47 1319.7 91.3 C1332.52 96.13 1339.95 98.65 1350 104 C1360.05 109.35 1370.42 117.18 1380 123.4 C1389.58 129.62 1398.33 134.42 1407.5 141.3 C1416.67 148.18 1425.82 156.9 1435 164.7 C1444.18 172.5 1453.42 178.92 1462.6 188.1 C1471.78 197.28 1484.02 209.68 1490.1 219.8 C1496.18 229.92 1496.55 240.83 1499.1 248.8 C1501.65 256.77 1504.15 261.33 1505.4 267.6 C1506.65 273.87 1506.82 280.13 1506.6 286.4 C1506.38 292.67 1505.55 298.93 1504.1 305.2 C1502.65 311.47 1502.15 316.2 1497.9 324 C1493.65 331.8 1486.58 345.5 1478.6 352 C1470.62 358.5 1459.53 360.67 1450 363 C1440.47 365.33 1432.57 365.65 1421.4 366 C1410.23 366.35 1397.17 366.42 1383 365.1 C1368.83 363.78 1351.93 361.2 1336.4 358.1 C1320.87 355 1305.33 351.55 1289.8 346.5 C1274.27 341.45 1256.97 333.88 1243.2 327.8 C1229.43 321.72 1215.22 314.52 1207.2 310 C1199.18 305.48 1200.87 304.5 1195.1 300.7 C1189.33 296.9 1180.12 291.97 1172.6 287.2 C1165.08 282.43 1156.65 276.85 1150 272.1 C1143.35 267.35 1138.05 263.4 1132.7 258.7 C1127.35 254 1122.6 248.85 1117.9 243.9 C1113.2 238.95 1108.72 233.95 1104.5 229 C1100.28 224.05 1096.07 219.15 1092.6 214.2 C1089.13 209.25 1086.42 204.25 1083.7 199.3 C1080.98 194.35 1078.52 189.43 1076.3 184.5 C1074.08 179.57 1072.13 174.65 1070.4 169.7 C1068.67 164.75 1067.13 159.75 1065.9 154.8 C1064.67 149.85 1062.57 146.43 1063 140 Z" fill="url(#pGB)"/><path d="M1071.9 140 C1072.42 133.57 1073.53 124.13 1076.5 116.2 C1079.47 108.27 1083.97 98.8 1089.7 92.4 C1095.43 86 1102.07 81.55 1110.9 77.8 C1119.73 74.05 1132.98 71.67 1142.7 69.9 C1152.42 68.13 1158.17 67.43 1169.2 67.2 C1180.23 66.97 1195.43 67.2 1208.9 68.5 C1222.37 69.8 1236.48 70.75 1250 75 C1263.52 79.25 1277.33 85.67 1290 94 C1302.67 102.33 1316 115.67 1326 125 C1336 134.33 1343.22 141.07 1350 150 C1356.78 158.93 1361.97 169.17 1366.7 178.6 C1371.43 188.03 1376.15 197.28 1378.4 206.6 C1380.65 215.92 1380.15 228.1 1380.2 234.5 C1380.25 240.9 1379.95 241.23 1378.7 245 C1377.45 248.77 1375.7 253.08 1372.7 257.1 C1369.7 261.12 1365.22 265.6 1360.7 269.1 C1356.18 272.6 1351.88 275.08 1345.6 278.1 C1339.32 281.12 1330.52 284.82 1323 287.2 C1315.48 289.58 1309.27 291.4 1300.5 292.4 C1291.73 293.4 1280.43 293.82 1270.4 293.2 C1260.37 292.58 1250.33 290.95 1240.3 288.7 C1230.27 286.45 1218.98 282.97 1210.2 279.7 C1201.42 276.43 1195.13 272.87 1187.6 269.1 C1180.07 265.33 1171.27 260.35 1165 257.1 C1158.73 253.85 1154.63 252.3 1150 249.6 C1145.37 246.9 1141.82 244.33 1137.2 240.9 C1132.58 237.47 1127 233.45 1122.3 229 C1117.6 224.55 1113.2 219.15 1109 214.2 C1104.8 209.25 1100.57 204.25 1097.1 199.3 C1093.63 194.35 1091.17 189.43 1088.2 184.5 C1085.23 179.57 1081.77 174.65 1079.3 169.7 C1076.83 164.75 1074.63 159.75 1073.4 154.8 C1072.17 149.85 1071.38 146.43 1071.9 140 Z" fill="url(#pRB)"/><path d="M1063 140 C1063.43 133.57 1065.37 124.58 1068.5 116.2 C1071.63 107.82 1076.05 96.77 1081.8 89.7 C1087.55 82.63 1095.05 77.98 1103 73.8 C1110.95 69.62 1120.67 66.58 1129.5 64.6 C1138.33 62.62 1147.17 62.48 1156 61.9 C1164.83 61.32 1171.47 60.88 1182.5 61.1 C1193.53 61.32 1207.1 60.88 1222.2 63.2 C1237.3 65.52 1256.85 70.32 1273.1 75 C1289.35 79.68 1306.88 86.47 1319.7 91.3 C1332.52 96.13 1339.95 98.65 1350 104 C1360.05 109.35 1370.42 117.18 1380 123.4 C1389.58 129.62 1398.33 134.42 1407.5 141.3 C1416.67 148.18 1425.82 156.9 1435 164.7 C1444.18 172.5 1453.42 178.92 1462.6 188.1 C1471.78 197.28 1484.02 209.68 1490.1 219.8 C1496.18 229.92 1496.55 240.83 1499.1 248.8 C1501.65 256.77 1504.15 261.33 1505.4 267.6 C1506.65 273.87 1506.82 280.13 1506.6 286.4 C1506.38 292.67 1505.55 298.93 1504.1 305.2 C1502.65 311.47 1502.15 316.2 1497.9 324 C1493.65 331.8 1486.58 345.5 1478.6 352 C1470.62 358.5 1459.53 360.67 1450 363 C1440.47 365.33 1432.57 365.65 1421.4 366 C1410.23 366.35 1397.17 366.42 1383 365.1 C1368.83 363.78 1351.93 361.2 1336.4 358.1 C1320.87 355 1305.33 351.55 1289.8 346.5 C1274.27 341.45 1256.97 333.88 1243.2 327.8 C1229.43 321.72 1215.22 314.52 1207.2 310 C1199.18 305.48 1200.87 304.5 1195.1 300.7 C1189.33 296.9 1180.12 291.97 1172.6 287.2 C1165.08 282.43 1156.65 276.85 1150 272.1 C1143.35 267.35 1138.05 263.4 1132.7 258.7 C1127.35 254 1122.6 248.85 1117.9 243.9 C1113.2 238.95 1108.72 233.95 1104.5 229 C1100.28 224.05 1096.07 219.15 1092.6 214.2 C1089.13 209.25 1086.42 204.25 1083.7 199.3 C1080.98 194.35 1078.52 189.43 1076.3 184.5 C1074.08 179.57 1072.13 174.65 1070.4 169.7 C1068.67 164.75 1067.13 159.75 1065.9 154.8 C1064.67 149.85 1062.57 146.43 1063 140 Z" fill="none" stroke="#3a3a3a" stroke-width="0.9" stroke-dasharray="3 1.6 1 1.6"/><path d="M1071.9 140 C1072.42 133.57 1073.53 124.13 1076.5 116.2 C1079.47 108.27 1083.97 98.8 1089.7 92.4 C1095.43 86 1102.07 81.55 1110.9 77.8 C1119.73 74.05 1132.98 71.67 1142.7 69.9 C1152.42 68.13 1158.17 67.43 1169.2 67.2 C1180.23 66.97 1195.43 67.2 1208.9 68.5 C1222.37 69.8 1236.48 70.75 1250 75 C1263.52 79.25 1277.33 85.67 1290 94 C1302.67 102.33 1316 115.67 1326 125 C1336 134.33 1343.22 141.07 1350 150 C1356.78 158.93 1361.97 169.17 1366.7 178.6 C1371.43 188.03 1376.15 197.28 1378.4 206.6 C1380.65 215.92 1380.15 228.1 1380.2 234.5 C1380.25 240.9 1379.95 241.23 1378.7 245 C1377.45 248.77 1375.7 253.08 1372.7 257.1 C1369.7 261.12 1365.22 265.6 1360.7 269.1 C1356.18 272.6 1351.88 275.08 1345.6 278.1 C1339.32 281.12 1330.52 284.82 1323 287.2 C1315.48 289.58 1309.27 291.4 1300.5 292.4 C1291.73 293.4 1280.43 293.82 1270.4 293.2 C1260.37 292.58 1250.33 290.95 1240.3 288.7 C1230.27 286.45 1218.98 282.97 1210.2 279.7 C1201.42 276.43 1195.13 272.87 1187.6 269.1 C1180.07 265.33 1171.27 260.35 1165 257.1 C1158.73 253.85 1154.63 252.3 1150 249.6 C1145.37 246.9 1141.82 244.33 1137.2 240.9 C1132.58 237.47 1127 233.45 1122.3 229 C1117.6 224.55 1113.2 219.15 1109 214.2 C1104.8 209.25 1100.57 204.25 1097.1 199.3 C1093.63 194.35 1091.17 189.43 1088.2 184.5 C1085.23 179.57 1081.77 174.65 1079.3 169.7 C1076.83 164.75 1074.63 159.75 1073.4 154.8 C1072.17 149.85 1071.38 146.43 1071.9 140 Z" fill="none" stroke="#3a3a3a" stroke-width="0.9" stroke-dasharray="3 1.6 1 1.6"/></g>
<g clip-path="url(#cB)"><g transform="translate(803.5 -7.5)"><path d="M216.8 21 L211.2 28.9 L209 34.5 L205.6 40 L200.1 45.6 L195.6 46.7 L186.7 45 L184.5 48.9 L183.4 56.7 L181.2 63.4 L175.6 70 L170 76.7 L163.4 85.6 L158.9 93.4 L155.6 103.4 L153.3 107.9 L147.8 109 L148.9 111.2 L154.5 111.2 L151.1 115.7 M341.1 21 L345.9 31.1 L349.9 39.1 L350.7 47 L349.9 53.4 L353.8 59.7 L361.8 64.5 L365 69.2 L368.1 77.2 L372.9 83.5 L380.8 88.3 L390.4 89.1 L398.3 86.7 L403.1 81.2 L404.7 77.2 L409.4 77.2 L409.4 82 L404.7 85.1 L401.5 88.3 L400.7 99.4 L400.7 109 L404.7 113.7 L412.6 115.3 L416.6 121.7 L417.4 128 L425.3 128.8 L433.3 128.8 L441.2 132.8 L450.7 137.6 L457.1 142.3 L458.7 148.7 L455.5 153.4 L452.3 155 L457.1 151.9 L465 145.5 L468.2 137.6 L473 140.7 L480.9 142.3 L488.9 147.1 L496.8 148.7 L501.6 147.1 L501.6 156.6 L512.7 159.8 L520.6 158.2 L518.3 166.5 L525.4 172.1 L539.7 167.3 L555.6 168.9 L571.5 170.5 L584.2 173.7 L589 170.5 L601.7 167.3 L607.2 168.9 L608 176 L609.6 185.6 L606.4 196.7 L603.3 206.3 L601.7 215.8 L608 220.5 L614.4 223.7 L617.6 230 L611.2 234.8 L614.4 241.2 L616 252.3 L621 257.6 L622.9 263.3 L628.6 266.7 L638.1 269.1 L647.7 267.2 L659.1 265.3 L665.8 267.6 L670.5 272.9 L672.5 278.6 L675.3 272.4 L679.1 273.8 L683.9 276.7 L685.8 281.5 L683.9 287.2 L678.2 288.1 L673.4 290 L670.5 293.9 L666.7 298.6 L659.1 301.5 L647.7 306.2 L638.1 309.1 L628.6 312.9 L619.1 316.7 L613.3 322.5 L609.5 331 L605.7 337.7 L600 338.7 L596.6 342 L594.9 346.3 L583 349.7 L579.7 357.3 L578 367.5 L571.2 374.2 L559.3 384.4 L544.1 396.3 L537.3 413.2 L528.8 428.5 L523.7 443.7 L520.3 455.6 L517.8 478" fill="none" stroke="#231815" stroke-width="3.3" stroke-linejoin="round" stroke-linecap="round"/><path d="M618.1 420.3 L627 420.3 L629.4 414 L633.2 414 L645.7 426.7 L644.4 428.2 L626.2 428.2 Z" fill="none" stroke="#231815" stroke-width="1.3" stroke-linejoin="round"/><circle cx="468.2" cy="136.5" r="3.5" fill="#231815"/><path d="M400.9 90 L400.7 99.4 L400.9 110" stroke="#231815" stroke-width="5.5" stroke-linecap="round" fill="none"/><circle cx="569.4" cy="111.2" r="1.8" fill="none" stroke="#231815" stroke-width="1"/></g></g>
<path d="M1106.4 128.6 L1412.62 275.88" fill="none" stroke="#231815" stroke-width="3.4" stroke-dasharray="17 4"/><path d="M1432 285.2 L1406.57 283.85 L1415.07 266.18 Z" fill="#231815"/>
<path d="M1106.4 128.6 L1311.71 215.89" fill="none" stroke="#e8462a" stroke-width="3.4" stroke-dasharray="17 4"/><path d="M1331.5 224.3 L1306.04 224.12 L1313.71 206.09 Z" fill="#e8462a"/>
<rect x="1346.8" y="230.4" width="12" height="12" fill="#231815"/>
<rect x="1456.9" y="291.8" width="13" height="13" fill="#231815"/>
<circle cx="1106.4" cy="128.6" r="8.7" fill="#231815"/>
<g clip-path="url(#cC)"><path d="M237 656.7 C237.27 657.83 237.77 658.13 238.6 663.5 C239.43 668.87 240.03 680.43 242 688.9 C243.97 697.37 246.17 705.83 250.4 714.3 C254.63 722.77 260.33 732.35 267.4 739.7 C274.47 747.05 284.33 753.02 292.8 758.4 C301.27 763.78 309.73 768.33 318.2 772 C326.67 775.67 333.72 777.58 343.6 780.4 C353.48 783.22 366.2 786.07 377.5 788.9 C388.8 791.73 404.32 795.72 411.4 797.4 C418.48 799.08 413.57 797.9 420 799 C426.43 800.1 440.6 802.82 450 804 C459.4 805.18 465.73 806.53 476.4 806.1 C487.07 805.67 501.45 803.6 514 801.4 C526.55 799.2 539.15 796.5 551.7 792.9 C564.25 789.3 576.77 784.82 589.3 779.8 C601.83 774.78 615.93 768.77 626.9 762.8 C637.87 756.83 647.27 749.95 655.1 744 C662.93 738.05 668.57 732.73 673.9 727.1 C679.23 721.47 683.65 715.53 687.1 710.2 C690.55 704.87 692.72 700.43 694.6 695.1 C696.48 689.77 697.77 683.52 698.4 678.2 C699.03 672.88 698.4 666.78 698.4 663.2 C698.4 659.62 698.4 657.78 698.4 656.7 Z" fill="url(#pGC)"/><path d="M237 656.7 C237.27 657.83 237.93 658.78 238.6 663.5 C239.27 668.22 239.77 678.08 241 685 C242.23 691.92 244.15 699.27 246 705 C247.85 710.73 249.43 714.23 252.1 719.4 C254.77 724.57 258.05 730.92 262 736 C265.95 741.08 269.25 744.75 275.8 749.9 C282.35 755.05 291.4 762.38 301.3 766.9 C311.2 771.42 323.9 774.75 335.2 777 C346.5 779.25 357.8 780.12 369.1 780.4 C380.4 780.68 394.52 779.75 403 778.7 C411.48 777.65 415.6 775.48 420 774.1 C424.4 772.72 424.7 772.28 429.4 770.4 C434.1 768.52 441.93 766.25 448.2 762.8 C454.47 759.35 461.35 754.7 467 749.7 C472.65 744.7 477.4 739.38 482.1 732.8 C486.8 726.22 491.75 717.73 495.2 710.2 C498.65 702.67 501.23 695.43 502.8 687.6 C504.37 679.77 504.27 668.35 504.6 663.2 C504.93 658.05 504.77 657.78 504.8 656.7 Z" fill="url(#pRC)"/><g clip-path="url(#er3)"><path d="M237 656.7 C237.27 657.83 237.77 658.13 238.6 663.5 C239.43 668.87 240.03 680.43 242 688.9 C243.97 697.37 246.17 705.83 250.4 714.3 C254.63 722.77 260.33 732.35 267.4 739.7 C274.47 747.05 284.33 753.02 292.8 758.4 C301.27 763.78 309.73 768.33 318.2 772 C326.67 775.67 333.72 777.58 343.6 780.4 C353.48 783.22 366.2 786.07 377.5 788.9 C388.8 791.73 404.32 795.72 411.4 797.4 C418.48 799.08 413.57 797.9 420 799 C426.43 800.1 440.6 802.82 450 804 C459.4 805.18 465.73 806.53 476.4 806.1 C487.07 805.67 501.45 803.6 514 801.4 C526.55 799.2 539.15 796.5 551.7 792.9 C564.25 789.3 576.77 784.82 589.3 779.8 C601.83 774.78 615.93 768.77 626.9 762.8 C637.87 756.83 647.27 749.95 655.1 744 C662.93 738.05 668.57 732.73 673.9 727.1 C679.23 721.47 683.65 715.53 687.1 710.2 C690.55 704.87 692.72 700.43 694.6 695.1 C696.48 689.77 697.77 683.52 698.4 678.2 C699.03 672.88 698.4 666.78 698.4 663.2 C698.4 659.62 698.4 657.78 698.4 656.7 Z" fill="#fff"/><path d="M237 656.7 C237.27 657.83 237.77 658.13 238.6 663.5 C239.43 668.87 240.03 680.43 242 688.9 C243.97 697.37 246.17 705.83 250.4 714.3 C254.63 722.77 260.33 732.35 267.4 739.7 C274.47 747.05 284.33 753.02 292.8 758.4 C301.27 763.78 309.73 768.33 318.2 772 C326.67 775.67 333.72 777.58 343.6 780.4 C353.48 783.22 366.2 786.07 377.5 788.9 C388.8 791.73 404.32 795.72 411.4 797.4 C418.48 799.08 413.57 797.9 420 799 C426.43 800.1 440.6 802.82 450 804 C459.4 805.18 465.73 806.53 476.4 806.1 C487.07 805.67 501.45 803.6 514 801.4 C526.55 799.2 539.15 796.5 551.7 792.9 C564.25 789.3 576.77 784.82 589.3 779.8 C601.83 774.78 615.93 768.77 626.9 762.8 C637.87 756.83 647.27 749.95 655.1 744 C662.93 738.05 668.57 732.73 673.9 727.1 C679.23 721.47 683.65 715.53 687.1 710.2 C690.55 704.87 692.72 700.43 694.6 695.1 C696.48 689.77 697.77 683.52 698.4 678.2 C699.03 672.88 698.4 666.78 698.4 663.2 C698.4 659.62 698.4 657.78 698.4 656.7 Z" fill="url(#pOC)"/></g><path d="M237 656.7 C237.27 657.83 237.77 658.13 238.6 663.5 C239.43 668.87 240.03 680.43 242 688.9 C243.97 697.37 246.17 705.83 250.4 714.3 C254.63 722.77 260.33 732.35 267.4 739.7 C274.47 747.05 284.33 753.02 292.8 758.4 C301.27 763.78 309.73 768.33 318.2 772 C326.67 775.67 333.72 777.58 343.6 780.4 C353.48 783.22 366.2 786.07 377.5 788.9 C388.8 791.73 404.32 795.72 411.4 797.4 C418.48 799.08 413.57 797.9 420 799 C426.43 800.1 440.6 802.82 450 804 C459.4 805.18 465.73 806.53 476.4 806.1 C487.07 805.67 501.45 803.6 514 801.4 C526.55 799.2 539.15 796.5 551.7 792.9 C564.25 789.3 576.77 784.82 589.3 779.8 C601.83 774.78 615.93 768.77 626.9 762.8 C637.87 756.83 647.27 749.95 655.1 744 C662.93 738.05 668.57 732.73 673.9 727.1 C679.23 721.47 683.65 715.53 687.1 710.2 C690.55 704.87 692.72 700.43 694.6 695.1 C696.48 689.77 697.77 683.52 698.4 678.2 C699.03 672.88 698.4 666.78 698.4 663.2 C698.4 659.62 698.4 657.78 698.4 656.7" fill="none" stroke="#3a3a3a" stroke-width="0.9" stroke-dasharray="3 1.6 1 1.6"/><path d="M237 656.7 C237.27 657.83 237.93 658.78 238.6 663.5 C239.27 668.22 239.77 678.08 241 685 C242.23 691.92 244.15 699.27 246 705 C247.85 710.73 249.43 714.23 252.1 719.4 C254.77 724.57 258.05 730.92 262 736 C265.95 741.08 269.25 744.75 275.8 749.9 C282.35 755.05 291.4 762.38 301.3 766.9 C311.2 771.42 323.9 774.75 335.2 777 C346.5 779.25 357.8 780.12 369.1 780.4 C380.4 780.68 394.52 779.75 403 778.7 C411.48 777.65 415.6 775.48 420 774.1 C424.4 772.72 424.7 772.28 429.4 770.4 C434.1 768.52 441.93 766.25 448.2 762.8 C454.47 759.35 461.35 754.7 467 749.7 C472.65 744.7 477.4 739.38 482.1 732.8 C486.8 726.22 491.75 717.73 495.2 710.2 C498.65 702.67 501.23 695.43 502.8 687.6 C504.37 679.77 504.27 668.35 504.6 663.2 C504.93 658.05 504.77 657.78 504.8 656.7" fill="none" stroke="#3a3a3a" stroke-width="0.9" stroke-dasharray="3 1.6 1 1.6"/></g>
<g fill="#231815"><rect x="225.4" y="704.6" width="6.4" height="6.4" transform="rotate(45 228.6 707.8)"/><rect x="236.61" y="713.52" width="6.4" height="6.4" transform="rotate(45 239.81 716.72)"/><rect x="247.82" y="722.43" width="6.4" height="6.4" transform="rotate(45 251.02 725.63)"/><rect x="259.03" y="731.35" width="6.4" height="6.4" transform="rotate(45 262.23 734.55)"/><rect x="270.23" y="740.27" width="6.4" height="6.4" transform="rotate(45 273.43 743.47)"/><rect x="281.44" y="749.18" width="6.4" height="6.4" transform="rotate(45 284.64 752.38)"/><rect x="292.65" y="758.1" width="6.4" height="6.4" transform="rotate(45 295.85 761.3)"/><rect x="303.86" y="767.02" width="6.4" height="6.4" transform="rotate(45 307.06 770.22)"/><rect x="315.07" y="775.93" width="6.4" height="6.4" transform="rotate(45 318.27 779.13)"/><rect x="326.28" y="784.85" width="6.4" height="6.4" transform="rotate(45 329.48 788.05)"/><rect x="337.48" y="793.77" width="6.4" height="6.4" transform="rotate(45 340.68 796.97)"/><rect x="348.69" y="802.68" width="6.4" height="6.4" transform="rotate(45 351.89 805.88)"/><rect x="359.9" y="811.6" width="6.4" height="6.4" transform="rotate(45 363.1 814.8)"/></g>
<path d="M303.5 682.9 L309.8 765 L626.8 670.45" fill="none" stroke="#231815" stroke-width="3.4" stroke-dasharray="17 4"/><path d="M647.4 664.3 L627.68 680.41 L622.08 661.63 Z" fill="#231815"/>
<path d="M303.5 682.9 L299.6 757.6 L421.45 677.24" fill="none" stroke="#e8462a" stroke-width="3.4" stroke-dasharray="17 4"/><path d="M439.4 665.4 L425.18 686.52 L414.39 670.16 Z" fill="#e8462a"/>
<rect x="440.55" y="651.35" width="12.3" height="12.3" fill="#231815"/>
<rect x="654.2" y="650.8" width="12.4" height="12.4" fill="#231815"/>
<circle cx="303.5" cy="682.9" r="8.7" fill="#231815"/>
<g clip-path="url(#cD)"><path d="M1055.3 649.2 C1055.3 649.63 1055.02 648.27 1055.3 651.8 C1055.58 655.33 1055.88 664.47 1057 670.4 C1058.12 676.33 1059.18 681.18 1062 687.4 C1064.82 693.62 1069.1 701.2 1073.9 707.7 C1078.7 714.2 1085.15 720.75 1090.8 726.4 C1096.45 732.05 1102.15 737.08 1107.8 741.6 C1113.45 746.12 1117.63 748.98 1124.7 753.5 C1131.77 758.02 1141.72 764.18 1150.2 768.7 C1158.68 773.22 1165.72 776.92 1175.6 780.6 C1185.48 784.28 1200.43 788.23 1209.5 790.8 C1218.57 793.37 1223.55 794.55 1230 796 C1236.45 797.45 1236.08 799.22 1248.2 799.5 C1260.32 799.78 1287.55 798.6 1302.7 797.7 C1317.85 796.8 1326.97 796.22 1339.1 794.1 C1351.23 791.98 1363.38 789.25 1375.5 785 C1387.62 780.75 1400.3 774.97 1411.8 768.6 C1423.3 762.23 1435.4 753.47 1444.5 746.8 C1453.6 740.13 1460.33 734.05 1466.4 728.6 C1472.47 723.15 1476.67 718.95 1480.9 714.1 C1485.13 709.25 1488.77 704.95 1491.8 699.5 C1494.83 694.05 1497.58 688.67 1499.1 681.4 C1500.62 674.13 1500.6 661.27 1500.9 655.9 C1501.2 650.53 1500.9 650.32 1500.9 649.2 Z" fill="url(#pGD)"/><path d="M1058.6 649.2 C1058.6 649.63 1058.32 648.27 1058.6 651.8 C1058.88 655.33 1058.6 663.62 1060.3 670.4 C1062 677.18 1065.12 685.43 1068.8 692.5 C1072.48 699.57 1077.32 706.6 1082.4 712.8 C1087.48 719 1093.08 724.62 1099.3 729.7 C1105.52 734.78 1112.63 739.33 1119.7 743.3 C1126.77 747.27 1133.8 750.82 1141.7 753.5 C1149.6 756.18 1158.63 757.98 1167.1 759.4 C1175.57 760.82 1182.62 761.3 1192.5 762 C1202.38 762.7 1218.63 763.4 1226.4 763.6 C1234.17 763.8 1232.43 763.88 1239.1 763.2 C1245.77 762.52 1257.32 761.32 1266.4 759.5 C1275.48 757.68 1283.92 755.32 1293.6 752.3 C1303.28 749.28 1315.4 745.35 1324.5 741.4 C1333.6 737.45 1340.92 733.45 1348.2 728.6 C1355.48 723.75 1362.75 718.05 1368.2 712.3 C1373.65 706.55 1377.57 699.87 1380.9 694.1 C1384.23 688.33 1386.68 684.07 1388.2 677.7 C1389.72 671.33 1389.7 660.65 1390 655.9 C1390.3 651.15 1390 650.32 1390 649.2 Z" fill="url(#pRD)"/><path d="M1055.3 649.2 C1055.3 649.63 1055.02 648.27 1055.3 651.8 C1055.58 655.33 1055.88 664.47 1057 670.4 C1058.12 676.33 1059.18 681.18 1062 687.4 C1064.82 693.62 1069.1 701.2 1073.9 707.7 C1078.7 714.2 1085.15 720.75 1090.8 726.4 C1096.45 732.05 1102.15 737.08 1107.8 741.6 C1113.45 746.12 1117.63 748.98 1124.7 753.5 C1131.77 758.02 1141.72 764.18 1150.2 768.7 C1158.68 773.22 1165.72 776.92 1175.6 780.6 C1185.48 784.28 1200.43 788.23 1209.5 790.8 C1218.57 793.37 1223.55 794.55 1230 796 C1236.45 797.45 1236.08 799.22 1248.2 799.5 C1260.32 799.78 1287.55 798.6 1302.7 797.7 C1317.85 796.8 1326.97 796.22 1339.1 794.1 C1351.23 791.98 1363.38 789.25 1375.5 785 C1387.62 780.75 1400.3 774.97 1411.8 768.6 C1423.3 762.23 1435.4 753.47 1444.5 746.8 C1453.6 740.13 1460.33 734.05 1466.4 728.6 C1472.47 723.15 1476.67 718.95 1480.9 714.1 C1485.13 709.25 1488.77 704.95 1491.8 699.5 C1494.83 694.05 1497.58 688.67 1499.1 681.4 C1500.62 674.13 1500.6 661.27 1500.9 655.9 C1501.2 650.53 1500.9 650.32 1500.9 649.2" fill="none" stroke="#3a3a3a" stroke-width="0.9" stroke-dasharray="3 1.6 1 1.6"/><path d="M1058.6 649.2 C1058.6 649.63 1058.32 648.27 1058.6 651.8 C1058.88 655.33 1058.6 663.62 1060.3 670.4 C1062 677.18 1065.12 685.43 1068.8 692.5 C1072.48 699.57 1077.32 706.6 1082.4 712.8 C1087.48 719 1093.08 724.62 1099.3 729.7 C1105.52 734.78 1112.63 739.33 1119.7 743.3 C1126.77 747.27 1133.8 750.82 1141.7 753.5 C1149.6 756.18 1158.63 757.98 1167.1 759.4 C1175.57 760.82 1182.62 761.3 1192.5 762 C1202.38 762.7 1218.63 763.4 1226.4 763.6 C1234.17 763.8 1232.43 763.88 1239.1 763.2 C1245.77 762.52 1257.32 761.32 1266.4 759.5 C1275.48 757.68 1283.92 755.32 1293.6 752.3 C1303.28 749.28 1315.4 745.35 1324.5 741.4 C1333.6 737.45 1340.92 733.45 1348.2 728.6 C1355.48 723.75 1362.75 718.05 1368.2 712.3 C1373.65 706.55 1377.57 699.87 1380.9 694.1 C1384.23 688.33 1386.68 684.07 1388.2 677.7 C1389.72 671.33 1389.7 660.65 1390 655.9 C1390.3 651.15 1390 650.32 1390 649.2" fill="none" stroke="#3a3a3a" stroke-width="0.9" stroke-dasharray="3 1.6 1 1.6"/></g>
<g fill="#231815"><rect x="1040.9" y="687.9" width="6.4" height="6.4" transform="rotate(45 1044.1 691.1)"/><rect x="1052.08" y="696.73" width="6.4" height="6.4" transform="rotate(45 1055.28 699.93)"/><rect x="1063.27" y="705.57" width="6.4" height="6.4" transform="rotate(45 1066.47 708.77)"/><rect x="1074.45" y="714.4" width="6.4" height="6.4" transform="rotate(45 1077.65 717.6)"/><rect x="1085.63" y="723.23" width="6.4" height="6.4" transform="rotate(45 1088.83 726.43)"/><rect x="1096.82" y="732.07" width="6.4" height="6.4" transform="rotate(45 1100.02 735.27)"/><rect x="1108" y="740.9" width="6.4" height="6.4" transform="rotate(45 1111.2 744.1)"/><rect x="1119.18" y="749.73" width="6.4" height="6.4" transform="rotate(45 1122.38 752.93)"/><rect x="1130.37" y="758.57" width="6.4" height="6.4" transform="rotate(45 1133.57 761.77)"/><rect x="1141.55" y="767.4" width="6.4" height="6.4" transform="rotate(45 1144.75 770.6)"/><rect x="1152.73" y="776.23" width="6.4" height="6.4" transform="rotate(45 1155.93 779.43)"/><rect x="1163.92" y="785.07" width="6.4" height="6.4" transform="rotate(45 1167.12 788.27)"/><rect x="1175.1" y="793.9" width="6.4" height="6.4" transform="rotate(45 1178.3 797.1)"/></g>
<path d="M1107 675.5 L1119.7 753.5 L1396.51 680.48" fill="none" stroke="#231815" stroke-width="3.4" stroke-dasharray="17 4"/><path d="M1417.3 675 L1397.08 690.47 L1392.08 671.52 Z" fill="#231815"/>
<path d="M1107 675.5 L1107.8 731.4 L1316.52 671.99" fill="none" stroke="#e8462a" stroke-width="3.4" stroke-dasharray="17 4"/><path d="M1337.2 666.1 L1317.28 681.96 L1311.91 663.11 Z" fill="#e8462a"/>
<rect x="1347" y="643" width="12" height="12" fill="#231815"/>
<rect x="1457.35" y="642.75" width="12.5" height="12.5" fill="#231815"/>
<circle cx="1107" cy="675.5" r="8.7" fill="#231815"/>
<path d="M142 22.8 V7.8 M142 475.3 V490.3 M232.57 22.8 V14.8 M232.57 475.3 V483.3 M323.14 22.8 V7.8 M323.14 475.3 V490.3 M413.71 22.8 V14.8 M413.71 475.3 V483.3 M504.29 22.8 V7.8 M504.29 475.3 V490.3 M594.86 22.8 V14.8 M594.86 475.3 V483.3 M685.43 22.8 V7.8 M685.43 475.3 V490.3 M776 22.8 V14.8 M776 475.3 V483.3 M142 22.8 H134 M776 22.8 H784 M142 113.3 H127 M776 113.3 H791 M142 203.8 H134 M776 203.8 H784 M142 294.3 H127 M776 294.3 H791 M142 384.8 H134 M776 384.8 H784 M142 475.3 H127 M776 475.3 H791" stroke="#231815" stroke-width="1.5" fill="none"/><rect x="142" y="22.8" width="634" height="452.5" fill="none" stroke="#231815" stroke-width="2.8"/>
<path d="M945.5 15.5 V0.5 M945.5 468.2 V483.2 M1036.1 15.5 V7.5 M1036.1 468.2 V476.2 M1126.7 15.5 V0.5 M1126.7 468.2 V483.2 M1217.3 15.5 V7.5 M1217.3 468.2 V476.2 M1307.9 15.5 V0.5 M1307.9 468.2 V483.2 M1398.5 15.5 V7.5 M1398.5 468.2 V476.2 M1489.1 15.5 V0.5 M1489.1 468.2 V483.2 M1579.7 15.5 V7.5 M1579.7 468.2 V476.2 M945.5 15.5 H937.5 M1579.7 15.5 H1587.7 M945.5 106.04 H930.5 M1579.7 106.04 H1594.7 M945.5 196.58 H937.5 M1579.7 196.58 H1587.7 M945.5 287.12 H930.5 M1579.7 287.12 H1594.7 M945.5 377.66 H937.5 M1579.7 377.66 H1587.7 M945.5 468.2 H930.5 M1579.7 468.2 H1594.7" stroke="#231815" stroke-width="1.5" fill="none"/><rect x="945.5" y="15.5" width="634.2" height="452.7" fill="none" stroke="#231815" stroke-width="2.8"/>
<path d="M142 656.7 V641.7 M142 837 V852 M232.57 656.7 V648.7 M232.57 837 V845 M323.14 656.7 V641.7 M323.14 837 V852 M413.71 656.7 V648.7 M413.71 837 V845 M504.29 656.7 V641.7 M504.29 837 V852 M594.86 656.7 V648.7 M594.86 837 V845 M685.43 656.7 V641.7 M685.43 837 V852 M776 656.7 V648.7 M776 837 V845 M142 656.7 H127 M776 656.7 H791 M142 701.78 H134 M776 701.78 H784 M142 746.85 H127 M776 746.85 H791 M142 791.92 H134 M776 791.92 H784 M142 837 H127 M776 837 H791" stroke="#231815" stroke-width="1.5" fill="none"/><rect x="142" y="656.7" width="634" height="180.3" fill="none" stroke="#231815" stroke-width="2.8"/>
<path d="M945.8 649.2 V634.2 M945.8 830.1 V845.1 M1036.34 649.2 V641.2 M1036.34 830.1 V838.1 M1126.89 649.2 V634.2 M1126.89 830.1 V845.1 M1217.43 649.2 V641.2 M1217.43 830.1 V838.1 M1307.97 649.2 V634.2 M1307.97 830.1 V845.1 M1398.51 649.2 V641.2 M1398.51 830.1 V838.1 M1489.06 649.2 V634.2 M1489.06 830.1 V845.1 M1579.6 649.2 V641.2 M1579.6 830.1 V838.1 M945.8 649.2 H930.8 M1579.6 649.2 H1594.6 M945.8 694.43 H937.8 M1579.6 694.43 H1587.6 M945.8 739.65 H930.8 M1579.6 739.65 H1594.6 M945.8 784.88 H937.8 M1579.6 784.88 H1587.6 M945.8 830.1 H930.8 M1579.6 830.1 H1594.6" stroke="#231815" stroke-width="1.5" fill="none"/><rect x="945.8" y="649.2" width="633.8" height="180.9" fill="none" stroke="#231815" stroke-width="2.8"/>
<g transform="translate(44.38 127.92) scale(0.3542 0.3848)" fill="#231815"><text stroke="#fff" stroke-width="0.5" vector-effect="non-scaling-stroke" x="25.00 75.00 125.00 175.00" y="0.00" font-family='"Liberation Serif", serif' font-size="100" text-anchor="middle" xml:space="preserve">25.2</text></g>
<g transform="translate(44.4 309.24) scale(0.3500 0.3776)" fill="#231815"><text stroke="#fff" stroke-width="0.5" vector-effect="non-scaling-stroke" x="25.00 75.00 125.00 175.00" y="0.00" font-family='"Liberation Serif", serif' font-size="100" text-anchor="middle" xml:space="preserve">25.0</text></g>
<g transform="translate(45.01 489.8) scale(0.3479 0.3985)" fill="#231815"><text stroke="#fff" stroke-width="0.5" vector-effect="non-scaling-stroke" x="25.00 75.00 125.00 175.00" y="0.00" font-family='"Liberation Serif", serif' font-size="100" text-anchor="middle" xml:space="preserve">24.8</text></g>
<g transform="translate(97.89 531.5) scale(0.3460 0.3955)" fill="#231815"><text stroke="#fff" stroke-width="0.5" vector-effect="non-scaling-stroke" x="25.00 75.00 125.00 175.00 225.00" y="0.00" font-family='"Liberation Serif", serif' font-size="100" text-anchor="middle" xml:space="preserve">121.4</text></g>
<g transform="translate(278.4 531.32) scale(0.3555 0.3882)" fill="#231815"><text stroke="#fff" stroke-width="0.5" vector-effect="non-scaling-stroke" x="25.00 75.00 125.00 175.00 225.00" y="0.00" font-family='"Liberation Serif", serif' font-size="100" text-anchor="middle" xml:space="preserve">121.6</text></g>
<g transform="translate(458.99 531.32) scale(0.3570 0.3882)" fill="#231815"><text stroke="#fff" stroke-width="0.5" vector-effect="non-scaling-stroke" x="25.00 75.00 125.00 175.00 225.00" y="0.00" font-family='"Liberation Serif", serif' font-size="100" text-anchor="middle" xml:space="preserve">121.8</text></g>
<g transform="translate(639.48 531.32) scale(0.3574 0.3882)" fill="#231815"><text stroke="#fff" stroke-width="0.5" vector-effect="non-scaling-stroke" x="25.00 75.00 125.00 175.00 225.00" y="0.00" font-family='"Liberation Serif", serif' font-size="100" text-anchor="middle" xml:space="preserve">122.0</text></g>
<g transform="translate(29 391) rotate(-90) translate(1.2 0) scale(0.3997 0.4348)" fill="#231815"><text stroke="#fff" stroke-width="0.5" vector-effect="non-scaling-stroke" x="25.00 75.00 125.00 175.00 225.00 275.00 325.00 375.00 425.00 475.00 525.00 575.00" y="0.00" font-family='"Liberation Serif", serif' font-size="100" text-anchor="middle" xml:space="preserve">Latitude (N)</text></g>
<g transform="translate(847.66 120.6) scale(0.3611 0.4045)" fill="#231815"><text stroke="#fff" stroke-width="0.5" vector-effect="non-scaling-stroke" x="25.00 75.00 125.00 175.00" y="0.00" font-family='"Liberation Serif", serif' font-size="100" text-anchor="middle" xml:space="preserve">25.2</text></g>
<g transform="translate(847.67 303.1) scale(0.3573 0.3985)" fill="#231815"><text stroke="#fff" stroke-width="0.5" vector-effect="non-scaling-stroke" x="25.00 75.00 125.00 175.00" y="0.00" font-family='"Liberation Serif", serif' font-size="100" text-anchor="middle" xml:space="preserve">25.0</text></g>
<g transform="translate(849.01 482.22) scale(0.3474 0.3881)" fill="#231815"><text stroke="#fff" stroke-width="0.5" vector-effect="non-scaling-stroke" x="25.00 75.00 125.00 175.00" y="0.00" font-family='"Liberation Serif", serif' font-size="100" text-anchor="middle" xml:space="preserve">24.8</text></g>
<g transform="translate(902.07 523.41) scale(0.3477 0.3866)" fill="#231815"><text stroke="#fff" stroke-width="0.5" vector-effect="non-scaling-stroke" x="25.00 75.00 125.00 175.00 225.00" y="0.00" font-family='"Liberation Serif", serif' font-size="100" text-anchor="middle" xml:space="preserve">121.4</text></g>
<g transform="translate(1081.62 522.94) scale(0.3538 0.3794)" fill="#231815"><text stroke="#fff" stroke-width="0.5" vector-effect="non-scaling-stroke" x="25.00 75.00 125.00 175.00 225.00" y="0.00" font-family='"Liberation Serif", serif' font-size="100" text-anchor="middle" xml:space="preserve">121.6</text></g>
<g transform="translate(1263 522.94) scale(0.3553 0.3794)" fill="#231815"><text stroke="#fff" stroke-width="0.5" vector-effect="non-scaling-stroke" x="25.00 75.00 125.00 175.00 225.00" y="0.00" font-family='"Liberation Serif", serif' font-size="100" text-anchor="middle" xml:space="preserve">121.8</text></g>
<g transform="translate(1443.86 522.94) scale(0.3603 0.3794)" fill="#231815"><text stroke="#fff" stroke-width="0.5" vector-effect="non-scaling-stroke" x="25.00 75.00 125.00 175.00 225.00" y="0.00" font-family='"Liberation Serif", serif' font-size="100" text-anchor="middle" xml:space="preserve">122.0</text></g>
<g transform="translate(837.3 406.4) rotate(-90) translate(1.2 0) scale(0.3990 0.4348)" fill="#231815"><text stroke="#fff" stroke-width="0.5" vector-effect="non-scaling-stroke" x="25.00 75.00 125.00 175.00 225.00 275.00 325.00 375.00 425.00 475.00 525.00 575.00" y="0.00" font-family='"Liberation Serif", serif' font-size="100" text-anchor="middle" xml:space="preserve">Latitude (N)</text></g>
<g transform="translate(92.7 669.67) scale(0.3762 0.3627)" fill="#231815"><text stroke="#fff" stroke-width="0.5" vector-effect="non-scaling-stroke" x="25.00" y="0.00" font-family='"Liberation Serif", serif' font-size="100" text-anchor="middle" xml:space="preserve">0</text></g>
<g transform="translate(88.78 760.95) scale(0.3356 0.3750)" fill="#231815"><text stroke="#fff" stroke-width="0.5" vector-effect="non-scaling-stroke" x="25.00 75.00" y="0.00" font-family='"Liberation Serif", serif' font-size="100" text-anchor="middle" xml:space="preserve">10</text></g>
<g transform="translate(89.28 852.24) scale(0.3304 0.3821)" fill="#231815"><text stroke="#fff" stroke-width="0.5" vector-effect="non-scaling-stroke" x="25.00 75.00" y="0.00" font-family='"Liberation Serif", serif' font-size="100" text-anchor="middle" xml:space="preserve">20</text></g>
<g transform="translate(96.84 892.95) scale(0.3515 0.3537)" fill="#231815"><text stroke="#fff" stroke-width="0.5" vector-effect="non-scaling-stroke" x="25.00 75.00 125.00 175.00 225.00" y="0.00" font-family='"Liberation Serif", serif' font-size="100" text-anchor="middle" xml:space="preserve">121.4</text></g>
<g transform="translate(278.4 892.79) scale(0.3555 0.3529)" fill="#231815"><text stroke="#fff" stroke-width="0.5" vector-effect="non-scaling-stroke" x="25.00 75.00 125.00 175.00 225.00" y="0.00" font-family='"Liberation Serif", serif' font-size="100" text-anchor="middle" xml:space="preserve">121.6</text></g>
<g transform="translate(458.7 892.98) scale(0.3557 0.3588)" fill="#231815"><text stroke="#fff" stroke-width="0.5" vector-effect="non-scaling-stroke" x="25.00 75.00 125.00 175.00 225.00" y="0.00" font-family='"Liberation Serif", serif' font-size="100" text-anchor="middle" xml:space="preserve">121.8</text></g>
<g transform="translate(640.5 892.98) scale(0.3557 0.3588)" fill="#231815"><text stroke="#fff" stroke-width="0.5" vector-effect="non-scaling-stroke" x="25.00 75.00 125.00 175.00 225.00" y="0.00" font-family='"Liberation Serif", serif' font-size="100" text-anchor="middle" xml:space="preserve">122.0</text></g>
<g transform="translate(65.1 858.2) rotate(-90) translate(3.17 0) scale(0.3966 0.4246)" fill="#231815"><text stroke="#fff" stroke-width="0.5" vector-effect="non-scaling-stroke" x="25.00 75.00 125.00 175.00 225.00 275.00 325.00 375.00 425.00 475.00" y="0.00" font-family='"Liberation Serif", serif' font-size="100" text-anchor="middle" xml:space="preserve">Depth (km)</text></g>
<g transform="translate(300 937) scale(0.3997 0.4217)" fill="#231815"><text stroke="#fff" stroke-width="0.5" vector-effect="non-scaling-stroke" x="25.00 75.00 125.00 175.00 225.00 275.00 325.00 375.00 425.00 475.00 525.00 575.00 625.00" y="0.00" font-family='"Liberation Serif", serif' font-size="100" text-anchor="middle" xml:space="preserve">Longitude (E)</text></g>
<g transform="translate(896.7 662.17) scale(0.3762 0.3642)" fill="#231815"><text stroke="#fff" stroke-width="0.5" vector-effect="non-scaling-stroke" x="25.00" y="0.00" font-family='"Liberation Serif", serif' font-size="100" text-anchor="middle" xml:space="preserve">0</text></g>
<g transform="translate(891.22 753.35) scale(0.3644 0.3750)" fill="#231815"><text stroke="#fff" stroke-width="0.5" vector-effect="non-scaling-stroke" x="25.00 75.00" y="0.00" font-family='"Liberation Serif", serif' font-size="100" text-anchor="middle" xml:space="preserve">10</text></g>
<g transform="translate(893.12 844.64) scale(0.3446 0.3806)" fill="#231815"><text stroke="#fff" stroke-width="0.5" vector-effect="non-scaling-stroke" x="25.00 75.00" y="0.00" font-family='"Liberation Serif", serif' font-size="100" text-anchor="middle" xml:space="preserve">20</text></g>
<g transform="translate(901.9 885.84) scale(0.3448 0.3642)" fill="#231815"><text stroke="#fff" stroke-width="0.5" vector-effect="non-scaling-stroke" x="25.00 75.00 125.00 175.00 225.00" y="0.00" font-family='"Liberation Serif", serif' font-size="100" text-anchor="middle" xml:space="preserve">121.4</text></g>
<g transform="translate(1083.39 885.74) scale(0.3458 0.3794)" fill="#231815"><text stroke="#fff" stroke-width="0.5" vector-effect="non-scaling-stroke" x="25.00 75.00 125.00 175.00 225.00" y="0.00" font-family='"Liberation Serif", serif' font-size="100" text-anchor="middle" xml:space="preserve">121.6</text></g>
<g transform="translate(1264.17 885.74) scale(0.3473 0.3794)" fill="#231815"><text stroke="#fff" stroke-width="0.5" vector-effect="non-scaling-stroke" x="25.00 75.00 125.00 175.00 225.00" y="0.00" font-family='"Liberation Serif", serif' font-size="100" text-anchor="middle" xml:space="preserve">121.8</text></g>
<g transform="translate(1444.91 885.74) scale(0.3540 0.3794)" fill="#231815"><text stroke="#fff" stroke-width="0.5" vector-effect="non-scaling-stroke" x="25.00 75.00 125.00 175.00 225.00" y="0.00" font-family='"Liberation Serif", serif' font-size="100" text-anchor="middle" xml:space="preserve">122.0</text></g>
<g transform="translate(869 850.3) rotate(-90) translate(3.17 0) scale(0.3960 0.4246)" fill="#231815"><text stroke="#fff" stroke-width="0.5" vector-effect="non-scaling-stroke" x="25.00 75.00 125.00 175.00 225.00 275.00 325.00 375.00 425.00 475.00" y="0.00" font-family='"Liberation Serif", serif' font-size="100" text-anchor="middle" xml:space="preserve">Depth (km)</text></g>
<g transform="translate(1110.21 935) scale(0.4038 0.4449)" fill="#231815"><text stroke="#fff" stroke-width="0.5" vector-effect="non-scaling-stroke" x="25.00 75.00 125.00 175.00 225.00 275.00 325.00 375.00 425.00 475.00 525.00 575.00 625.00" y="0.00" font-family='"Liberation Serif", serif' font-size="100" text-anchor="middle" xml:space="preserve">Longitude (E)</text></g>
<g transform="translate(290.49 120.4) scale(0.3139 0.2913)" fill="#231815"><text x="0.00" y="0.00" font-family='"Liberation Sans", sans-serif' font-size="100" xml:space="preserve">Eq</text></g>
<g transform="translate(154.73 456.1) scale(0.3875 0.3425)" fill="#231815"><text x="0.00" y="0.00" font-family='"Liberation Sans", sans-serif' font-size="100" xml:space="preserve">Taiwan</text></g>
<g transform="translate(467.13 454.2) scale(0.3214 0.3114)" fill="#231815"><text x="0.00" y="0.00" font-family='"Liberation Sans", sans-serif' font-size="100" xml:space="preserve">KM07</text></g>
<g transform="translate(662.24 347.9) scale(0.3073 0.2971)" fill="#231815"><text x="0.00" y="0.00" font-family='"Liberation Sans", sans-serif' font-size="100" xml:space="preserve">KM01</text></g>
<g transform="translate(476.7 212.4) rotate(25.5) translate(-2.56 0) scale(0.3205 0.2877)" fill="#231815"><text x="0.00" y="0.00" font-family='"Liberation Sans", sans-serif' font-size="100" xml:space="preserve">Ray path</text></g>
<g transform="translate(431.5 70.1) rotate(19) translate(-2.75 0) scale(0.3436 0.3014)" fill="#231815"><text x="0.00" y="0.00" font-family='"Liberation Sans", sans-serif' font-size="100" xml:space="preserve">Ellipsoid</text></g>
<g transform="translate(1107.33 113.4) scale(0.3333 0.2870)" fill="#231815"><text x="0.00" y="0.00" font-family='"Liberation Sans", sans-serif' font-size="100" xml:space="preserve">Eq</text></g>
<g transform="translate(981.34 446.6) scale(0.3805 0.3493)" fill="#231815"><text x="0.00" y="0.00" font-family='"Liberation Sans", sans-serif' font-size="100" xml:space="preserve">Taiwan</text></g>
<g transform="translate(1333 227.7) scale(0.3254 0.3129)" fill="#231815"><text x="0.00" y="0.00" font-family='"Liberation Sans", sans-serif' font-size="100" xml:space="preserve">KE12</text></g>
<g transform="translate(1473.43 314.6) scale(0.3085 0.3043)" fill="#231815"><text x="0.00" y="0.00" font-family='"Liberation Sans", sans-serif' font-size="100" xml:space="preserve">KM01</text></g>
<g transform="translate(1221 211.5) rotate(25) translate(-2.52 0) scale(0.3155 0.2808)" fill="#231815"><text x="0.00" y="0.00" font-family='"Liberation Sans", sans-serif' font-size="100" xml:space="preserve">Ray path</text></g>
<g transform="translate(1395.5 131) rotate(41) translate(-2.66 0) scale(0.3324 0.3123)" fill="#231815"><text x="0.00" y="0.00" font-family='"Liberation Sans", sans-serif' font-size="100" xml:space="preserve">Ellipsoid</text></g>
<g transform="translate(319.13 689.8) scale(0.3333 0.2768)" fill="#231815"><text x="0.00" y="0.00" font-family='"Liberation Sans", sans-serif' font-size="100" xml:space="preserve">Eq</text></g>
<g transform="translate(418 647) scale(0.3250 0.3057)" fill="#231815"><text x="0.00" y="0.00" font-family='"Liberation Sans", sans-serif' font-size="100" xml:space="preserve">KM07</text></g>
<g transform="translate(624.61 644.6) scale(0.3109 0.3114)" fill="#231815"><text x="0.00" y="0.00" font-family='"Liberation Sans", sans-serif' font-size="100" xml:space="preserve">KM01</text></g>
<g transform="translate(229.3 750.9) rotate(36) translate(-2.5 0) scale(0.3123 0.2877)" fill="#231815"><text x="0.00" y="0.00" font-family='"Liberation Sans", sans-serif' font-size="100" xml:space="preserve">Reflector</text></g>
<g transform="translate(1118.16 682.6) scale(0.3296 0.2942)" fill="#231815"><text x="0.00" y="0.00" font-family='"Liberation Sans", sans-serif' font-size="100" xml:space="preserve">Eq</text></g>
<g transform="translate(1293.83 635.1) scale(0.3341 0.3014)" fill="#231815"><text x="0.00" y="0.00" font-family='"Liberation Sans", sans-serif' font-size="100" xml:space="preserve">KE12</text></g>
<g transform="translate(1416.06 636.1) scale(0.3177 0.2971)" fill="#231815"><text x="0.00" y="0.00" font-family='"Liberation Sans", sans-serif' font-size="100" xml:space="preserve">KM01</text></g>
<g transform="translate(1045.6 737.8) rotate(35.5) translate(-2.52 0) scale(0.3149 0.2877)" fill="#231815"><text x="0.00" y="0.00" font-family='"Liberation Sans", sans-serif' font-size="100" xml:space="preserve">Reflector</text></g>
<text x="568 587.86 594.34 600.74 607.06 622.47 635.77 649.89 655.32" y="788.3 781.65 779.05 776.27 773.3 765.06 756.72 746.44 742.05" rotate="-18.51 -21.85 -23.52 -25.19 -28.12 -32.09 -36.06 -38.98 -41.91" font-family="'Liberation Sans', sans-serif" font-size="31.42" fill="#231815">Ellipsoid</text>
<text x="1359.6 1380.37 1387.16 1393.88 1400.51 1416.73 1430.79 1445.75 1451.52" y="785.5 779.34 776.89 774.25 771.4 763.45 755.31 745.19 740.85" rotate="-16.51 -19.85 -21.52 -23.19 -26.12 -30.09 -34.06 -36.98 -39.91" font-family="'Liberation Sans', sans-serif" font-size="32.49" fill="#231815">Ellipsoid</text>
</svg>
</body></html>
